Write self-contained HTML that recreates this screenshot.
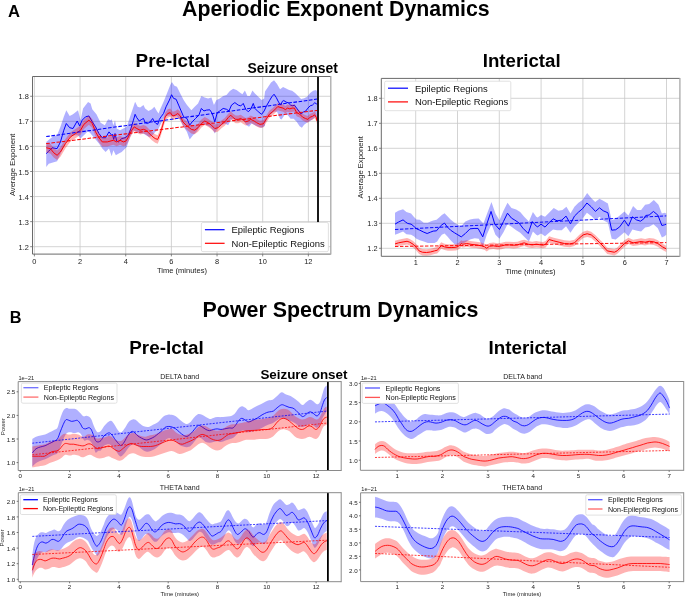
<!DOCTYPE html>
<html><head><meta charset="utf-8"><style>
html,body{margin:0;padding:0;background:#fff;}
body{width:685px;height:598px;overflow:hidden;}
svg{display:block;will-change:transform;}
text{font-family:"Liberation Sans",sans-serif;}
</style></head><body>
<svg width="685" height="598" viewBox="0 0 685 598">
<rect width="685" height="598" fill="#fff"/>
<defs>
<clipPath id="cAL"><rect x="32.5" y="76.5" width="298.3" height="177.6"/></clipPath>
<clipPath id="cAR"><rect x="381.3" y="78.4" width="298.3" height="177.8"/></clipPath>
<clipPath id="cBTL"><rect x="18.2" y="381.6" width="323" height="88.9"/></clipPath>
<clipPath id="cBTR"><rect x="360.4" y="381.5" width="323.3" height="88.8"/></clipPath>
<clipPath id="cBBL"><rect x="18.3" y="492.7" width="322.9" height="89"/></clipPath>
<clipPath id="cBBR"><rect x="360.6" y="492.8" width="323.1" height="88.8"/></clipPath>
</defs>
<text x="8.1" y="17" font-size="16.6" font-weight="bold" text-anchor="start" fill="#000">A</text>
<text x="182" y="15.9" font-size="21.3" font-weight="bold" text-anchor="start" fill="#000">Aperiodic Exponent Dynamics</text>
<text x="135.6" y="66.5" font-size="18.85" font-weight="bold" text-anchor="start" fill="#000">Pre-Ictal</text>
<text x="247.6" y="73.1" font-size="13.9" font-weight="bold" text-anchor="start" fill="#000">Seizure onset</text>
<text x="482.7" y="66.7" font-size="18.7" font-weight="bold" text-anchor="start" fill="#000">Interictal</text>
<text x="9.8" y="323" font-size="16.3" font-weight="bold" text-anchor="start" fill="#000">B</text>
<text x="202.6" y="316.8" font-size="21.4" font-weight="bold" text-anchor="start" fill="#000">Power Spectrum Dynamics</text>
<text x="129.3" y="353.9" font-size="18.85" font-weight="bold" text-anchor="start" fill="#000">Pre-Ictal</text>
<text x="488.6" y="354.2" font-size="18.8" font-weight="bold" text-anchor="start" fill="#000">Interictal</text>
<text x="260.4" y="378.8" font-size="13.4" font-weight="bold" text-anchor="start" fill="#000">Seizure onset</text>
<line x1="34.4" y1="76.5" x2="34.4" y2="254.1" stroke="#c8c8c8" stroke-width="0.8"/>
<line x1="80.06" y1="76.5" x2="80.06" y2="254.1" stroke="#c8c8c8" stroke-width="0.8"/>
<line x1="125.72" y1="76.5" x2="125.72" y2="254.1" stroke="#c8c8c8" stroke-width="0.8"/>
<line x1="171.38" y1="76.5" x2="171.38" y2="254.1" stroke="#c8c8c8" stroke-width="0.8"/>
<line x1="217.04" y1="76.5" x2="217.04" y2="254.1" stroke="#c8c8c8" stroke-width="0.8"/>
<line x1="262.7" y1="76.5" x2="262.7" y2="254.1" stroke="#c8c8c8" stroke-width="0.8"/>
<line x1="308.36" y1="76.5" x2="308.36" y2="254.1" stroke="#c8c8c8" stroke-width="0.8"/>
<line x1="32.5" y1="246.7" x2="330.8" y2="246.7" stroke="#c8c8c8" stroke-width="0.8"/>
<line x1="32.5" y1="221.63" x2="330.8" y2="221.63" stroke="#c8c8c8" stroke-width="0.8"/>
<line x1="32.5" y1="196.56" x2="330.8" y2="196.56" stroke="#c8c8c8" stroke-width="0.8"/>
<line x1="32.5" y1="171.49" x2="330.8" y2="171.49" stroke="#c8c8c8" stroke-width="0.8"/>
<line x1="32.5" y1="146.42" x2="330.8" y2="146.42" stroke="#c8c8c8" stroke-width="0.8"/>
<line x1="32.5" y1="121.35" x2="330.8" y2="121.35" stroke="#c8c8c8" stroke-width="0.8"/>
<line x1="32.5" y1="96.28" x2="330.8" y2="96.28" stroke="#c8c8c8" stroke-width="0.8"/>
<g clip-path="url(#cAL)">
<path d="M46.23,141.92 L50.41,138.58 L53.76,136.07 L57.1,135.23 L60.45,126.86 L63.8,116.82 L66.31,110.13 L69.66,115.98 L73,114.31 L78.03,110.13 L80.54,120.17 L83.05,108.45 L88.07,102.09 L90.58,103.43 L92.25,109.29 L96.44,114.31 L100.62,122.68 L104.8,125.19 L108.15,119.33 L110.66,120.17 L111.67,119.33 L113.35,125.19 L115.02,120.17 L116.69,128.54 L120.04,130.21 L123.39,128.54 L126.74,126.86 L130.08,116.82 L133.43,106.78 L135.1,101.76 L137.62,106.78 L140.13,107.62 L143.47,105.1 L145.15,108.45 L148.49,110.96 L151.84,109.29 L154.35,106.78 L156.86,110.96 L158.54,113.47 L160.21,109.29 L163.56,101.76 L166.9,93.39 L170.25,85.02 L171.92,82.01 L174.44,85.86 L176.95,86.69 L180.29,93.39 L183.64,100.08 L186.99,105.1 L191.35,110.13 L194.69,106.78 L198.04,103.43 L201.39,95.9 L204.74,97.57 L208.08,98.41 L211.43,97.57 L213.94,105.1 L216.45,100.08 L219.8,98.41 L223.15,95.9 L226.49,95.06 L229.84,90.88 L233.19,88.7 L236.54,90.04 L239.88,92.55 L242.39,94.23 L244.9,90.38 L247.41,95.9 L249.92,95.9 L252.44,90.38 L254.95,93.39 L258.29,96.74 L261.64,100.08 L264.15,98.41 L265.01,91.55 L268.02,87.03 L271.03,82.52 L274.04,80.26 L277.05,84.02 L280.06,89.29 L283.07,87.03 L286.08,88.54 L289.09,90.04 L292.1,90.79 L295.11,93.05 L298.12,96.06 L301.13,99.07 L304.14,98.32 L307.15,96.81 L310.16,93.05 L313.17,90.79 L316.18,90.04 L316.94,91.55 L316.94,119.39 L316.18,116.38 L313.17,118.64 L310.16,120.9 L307.15,122.4 L304.14,124.66 L301.89,127.67 L299.63,126.16 L296.62,121.65 L293.61,118.64 L290.6,118.64 L287.59,114.88 L284.58,114.88 L281.57,119.39 L280.06,118.64 L277.05,111.87 L274.04,111.87 L271.03,114.12 L268.02,117.13 L265.01,123.15 L264.99,126.03 L261.64,127.7 L258.29,126.86 L254.95,125.19 L251.6,123.51 L249.09,126.86 L246.58,125.19 L243.23,120.17 L239.88,120.17 L236.54,121 L233.19,118.49 L230.68,120.17 L228.17,125.19 L224.82,123.51 L221.47,125.19 L217.29,128.54 L214.78,133.56 L213.1,130.21 L209.76,126.86 L206.41,125.19 L203.06,123.51 L199.72,126.86 L196.37,131.88 L193.02,135.23 L189.67,139.41 L186.99,131.88 L183.64,126.86 L180.29,120.17 L176.95,115.98 L173.6,116.82 L170.25,115.15 L166.9,115.98 L163.56,118.49 L160.21,125.19 L157.7,130.21 L155.19,131.88 L151.84,136.07 L149.33,136.9 L145.98,135.23 L143.47,133.56 L140.13,133.56 L136.78,131.88 L133.43,130.21 L130.08,136.9 L126.74,146.95 L121.72,151.97 L118.37,153.64 L115.86,155.31 L113.35,150.29 L111.67,156.15 L108.99,148.62 L105.64,151.97 L102.29,148.62 L98.95,143.6 L94.76,138.58 L90.58,133.56 L88.07,131.05 L83.88,135.23 L80.54,138.58 L78.03,135.23 L73.84,135.23 L69.66,136.9 L65.47,143.6 L61.29,151.97 L57.1,161.17 L48.74,163.68 L46.23,167.03 Z" fill="rgba(0,0,255,0.31)"/>
<path d="M46.23,153.64 L48.74,151.13 L52.08,147.78 L57.1,148.62 L60.45,141.92 L63.8,130.21 L66.31,123.51 L69.66,127.7 L73,128.54 L77.19,121 L79.7,126.03 L82.21,120.17 L85.56,116.82 L88.9,115.98 L92.25,121.84 L95.6,126.86 L98.95,133.56 L102.29,137.74 L105.64,137.74 L108.99,131.88 L111.67,135.23 L112.51,134.39 L113.68,139.41 L115.02,133.56 L116.69,141.09 L118.37,141.92 L121.72,138.58 L125.06,137.74 L128.41,135.23 L130.92,128.54 L133.43,120.17 L135.1,114.31 L136.78,117.66 L139.29,121 L141.8,119.33 L143.47,118.49 L145.15,122.68 L147.66,123.51 L150.17,121.84 L152.68,118.49 L154.35,121.84 L156.03,123.51 L157.7,124.35 L159.37,119.33 L161.05,116.82 L163.56,113.47 L166.07,106.78 L169.41,100.08 L171.59,94.73 L173.6,98.41 L176.11,99.25 L178.62,105.1 L181.13,110.96 L183.64,116.82 L186.99,118.49 L189.67,125.19 L192.18,121.84 L195.53,118.49 L198.88,115.15 L201.39,108.45 L203.9,110.96 L206.41,110.13 L209.76,109.79 L212.27,113.47 L214.78,121.84 L217.29,112.64 L219.8,110.96 L223.15,108.45 L226.49,109.29 L229,110.96 L231.51,105.1 L234.86,102.59 L238.21,105.1 L240.72,105.94 L243.23,103.43 L245.74,109.29 L248.25,111.8 L250.76,109.29 L253.27,103.43 L254.95,108.45 L258.29,111.8 L261.64,114.31 L264.15,110.96 L266.52,105.84 L269.53,100.58 L271.78,96.81 L274.04,94.26 L276.3,97.57 L278.56,102.08 L280.81,105.09 L282.32,101.33 L283.82,100.58 L286.08,102.08 L288.34,102.83 L290.6,105.09 L292.85,105.84 L294.36,105.09 L296.62,108.1 L298.88,111.11 L301.13,114.12 L303.39,111.87 L305.65,111.11 L307.91,108.1 L310.16,105.84 L312.42,105.09 L314.68,102.83 L316.18,103.59 L316.94,104.34" fill="none" stroke="#0000ff" stroke-width="1.0" stroke-linejoin="round"/>
<path d="M46.23,142.98 L50.41,143.84 L53.76,148.04 L57.1,150.57 L60.45,147.24 L65.47,138.9 L70.49,132.23 L75.51,128.91 L80.54,125.59 L83.88,119.75 L88.9,115.59 L92.25,118.95 L95.6,127.34 L98.95,133.21 L102.29,137.41 L107.31,137.44 L113.35,135.8 L116.69,137.49 L120.04,135.83 L123.39,137.52 L125.9,136.7 L128.41,132.53 L131.76,125.85 L134.27,122.52 L136.78,124.2 L140.13,125.89 L143.47,125.07 L145.98,125.92 L148.49,128.45 L151.84,131.81 L155.19,134.34 L157.7,135.19 L160.21,129.34 L162.72,120.99 L165.23,112.63 L167.74,109.3 L170.25,108.48 L172.76,111.84 L175.27,111.01 L177.78,109.35 L180.29,111.87 L182.8,117.75 L186.15,121.11 L191.35,125.32 L194.69,126.17 L198.04,123.68 L201.39,119.51 L204.74,117.02 L208.08,118.71 L211.43,121.24 L214.78,124.6 L218.13,123.78 L221.47,120.45 L224.82,117.96 L228.17,113.79 L230.68,111.3 L233.19,113.82 L235.7,115.51 L238.21,115.52 L240.72,114.7 L243.23,116.38 L245.74,118.07 L248.25,117.25 L250.76,115.58 L254.11,117.28 L256.62,118.96 L259.97,120.65 L263.31,120.17 L266.52,114.97 L269.53,110.47 L272.54,108.23 L275.55,105.24 L277.8,102.99 L280.06,103.75 L283.07,104.52 L285.33,106.04 L287.59,104.55 L289.84,105.31 L292.1,104.57 L294.36,104.58 L296.62,109.11 L299.63,110.63 L302.64,113.65 L305.65,115.17 L307.91,115.94 L310.16,113.69 L312.42,112.95 L314.68,111.46 L316.18,113.72 L316.94,117.49 L316.94,124.3 L316.18,120.54 L314.68,118.29 L312.42,119.81 L310.16,120.57 L307.91,122.84 L305.65,122.1 L302.64,120.61 L299.63,117.62 L296.62,116.13 L294.36,111.62 L292.1,111.64 L289.84,112.4 L287.59,111.66 L285.33,113.18 L283.07,111.68 L280.06,110.95 L277.8,110.2 L275.55,112.47 L272.54,115.5 L269.53,117.77 L266.52,122.3 L263.31,127.53 L259.97,128.05 L256.62,126.39 L254.11,124.73 L250.76,123.08 L248.25,124.76 L245.74,125.61 L243.23,123.95 L240.72,122.29 L238.21,123.14 L235.7,123.15 L233.19,121.49 L230.68,119 L228.17,121.52 L224.82,125.72 L221.47,128.25 L218.13,131.61 L214.78,132.47 L211.43,129.14 L208.08,126.64 L204.74,124.99 L201.39,127.51 L198.04,131.72 L194.69,134.24 L191.35,133.42 L186.15,129.27 L182.8,125.94 L180.29,120.09 L177.78,117.59 L175.27,119.28 L172.76,120.13 L170.25,116.8 L167.74,117.65 L165.23,121.01 L162.72,129.39 L160.21,137.77 L157.7,143.64 L155.19,142.82 L151.84,140.32 L148.49,136.99 L145.98,134.49 L143.47,133.67 L140.13,134.52 L136.78,132.87 L134.27,131.21 L131.76,134.57 L128.41,141.28 L125.9,145.48 L123.39,146.33 L120.04,144.67 L116.69,146.36 L113.35,144.7 L107.31,146.41 L102.29,146.43 L98.95,142.27 L95.6,136.43 L92.25,128.08 L88.9,124.75 L83.88,128.96 L80.54,134.83 L75.51,138.2 L70.49,141.58 L65.47,148.3 L60.45,156.69 L57.1,160.06 L53.76,157.56 L50.41,153.4 L46.23,152.58 Z" fill="rgba(255,0,0,0.30)"/>
<path d="M46.23,147.78 L50.41,148.62 L53.76,152.8 L57.1,155.31 L60.45,151.97 L65.47,143.6 L70.49,136.9 L75.51,133.56 L80.54,130.21 L83.88,124.35 L88.9,120.17 L92.25,123.51 L95.6,131.88 L98.95,137.74 L102.29,141.92 L107.31,141.92 L113.35,140.25 L116.69,141.92 L120.04,140.25 L123.39,141.92 L125.9,141.09 L128.41,136.9 L131.76,130.21 L134.27,126.86 L136.78,128.54 L140.13,130.21 L143.47,129.37 L145.98,130.21 L148.49,132.72 L151.84,136.07 L155.19,138.58 L157.7,139.41 L160.21,133.56 L162.72,125.19 L165.23,116.82 L167.74,113.47 L170.25,112.64 L172.76,115.98 L175.27,115.15 L177.78,113.47 L180.29,115.98 L182.8,121.84 L186.15,125.19 L191.35,129.37 L194.69,130.21 L198.04,127.7 L201.39,123.51 L204.74,121 L208.08,122.68 L211.43,125.19 L214.78,128.54 L218.13,127.7 L221.47,124.35 L224.82,121.84 L228.17,117.66 L230.68,115.15 L233.19,117.66 L235.7,119.33 L238.21,119.33 L240.72,118.49 L243.23,120.17 L245.74,121.84 L248.25,121 L250.76,119.33 L254.11,121 L256.62,122.68 L259.97,124.35 L263.31,123.85 L266.52,118.64 L269.53,114.12 L272.54,111.87 L275.55,108.85 L277.8,106.6 L280.06,107.35 L283.07,108.1 L285.33,109.61 L287.59,108.1 L289.84,108.85 L292.1,108.1 L294.36,108.1 L296.62,112.62 L299.63,114.12 L302.64,117.13 L305.65,118.64 L307.91,119.39 L310.16,117.13 L312.42,116.38 L314.68,114.88 L316.18,117.13 L316.94,120.9" fill="none" stroke="#ff0000" stroke-width="1.0" stroke-linejoin="round"/>
<line x1="46.2" y1="136.6" x2="317" y2="99.1" stroke="#0000ff" stroke-width="1.05" stroke-dasharray="3.6 1.6"/>
<line x1="46.2" y1="143.6" x2="317" y2="110.4" stroke="#ff0000" stroke-width="1.05" stroke-dasharray="3.6 1.6"/>
</g>
<line x1="318" y1="76.5" x2="318" y2="222.5" stroke="#000" stroke-width="1.8"/>
<path d="M330.8,76.5 L32.5,76.5 L32.5,254.1 L330.8,254.1" fill="none" stroke="#6a6a6a" stroke-width="1"/>
<line x1="330.8" y1="76" x2="330.8" y2="254.6" stroke="#a8a8a8" stroke-width="1.3"/>
<line x1="34.4" y1="254.1" x2="34.4" y2="256.4" stroke="#6a6a6a" stroke-width="0.8"/>
<text x="34.4" y="263.6" font-size="7.4" text-anchor="middle" fill="#222">0</text>
<line x1="80.06" y1="254.1" x2="80.06" y2="256.4" stroke="#6a6a6a" stroke-width="0.8"/>
<text x="80.06" y="263.6" font-size="7.4" text-anchor="middle" fill="#222">2</text>
<line x1="125.72" y1="254.1" x2="125.72" y2="256.4" stroke="#6a6a6a" stroke-width="0.8"/>
<text x="125.72" y="263.6" font-size="7.4" text-anchor="middle" fill="#222">4</text>
<line x1="171.38" y1="254.1" x2="171.38" y2="256.4" stroke="#6a6a6a" stroke-width="0.8"/>
<text x="171.38" y="263.6" font-size="7.4" text-anchor="middle" fill="#222">6</text>
<line x1="217.04" y1="254.1" x2="217.04" y2="256.4" stroke="#6a6a6a" stroke-width="0.8"/>
<text x="217.04" y="263.6" font-size="7.4" text-anchor="middle" fill="#222">8</text>
<line x1="262.7" y1="254.1" x2="262.7" y2="256.4" stroke="#6a6a6a" stroke-width="0.8"/>
<text x="262.7" y="263.6" font-size="7.4" text-anchor="middle" fill="#222">10</text>
<line x1="308.36" y1="254.1" x2="308.36" y2="256.4" stroke="#6a6a6a" stroke-width="0.8"/>
<text x="308.36" y="263.6" font-size="7.4" text-anchor="middle" fill="#222">12</text>
<line x1="30.2" y1="246.7" x2="32.5" y2="246.7" stroke="#6a6a6a" stroke-width="0.8"/>
<text x="28.8" y="249.8" font-size="7.4" text-anchor="end" fill="#222">1.2</text>
<line x1="30.2" y1="221.63" x2="32.5" y2="221.63" stroke="#6a6a6a" stroke-width="0.8"/>
<text x="28.8" y="224.73" font-size="7.4" text-anchor="end" fill="#222">1.3</text>
<line x1="30.2" y1="196.56" x2="32.5" y2="196.56" stroke="#6a6a6a" stroke-width="0.8"/>
<text x="28.8" y="199.66" font-size="7.4" text-anchor="end" fill="#222">1.4</text>
<line x1="30.2" y1="171.49" x2="32.5" y2="171.49" stroke="#6a6a6a" stroke-width="0.8"/>
<text x="28.8" y="174.59" font-size="7.4" text-anchor="end" fill="#222">1.5</text>
<line x1="30.2" y1="146.42" x2="32.5" y2="146.42" stroke="#6a6a6a" stroke-width="0.8"/>
<text x="28.8" y="149.52" font-size="7.4" text-anchor="end" fill="#222">1.6</text>
<line x1="30.2" y1="121.35" x2="32.5" y2="121.35" stroke="#6a6a6a" stroke-width="0.8"/>
<text x="28.8" y="124.45" font-size="7.4" text-anchor="end" fill="#222">1.7</text>
<line x1="30.2" y1="96.28" x2="32.5" y2="96.28" stroke="#6a6a6a" stroke-width="0.8"/>
<text x="28.8" y="99.38" font-size="7.4" text-anchor="end" fill="#222">1.8</text>
<rect x="201.4" y="222.5" width="127" height="29.1" rx="1.5" fill="#fff" stroke="#d9d9d9" stroke-width="0.8"/>
<line x1="204.9" y1="229.7" x2="224.6" y2="229.7" stroke="#0000ff" stroke-width="1.2"/>
<line x1="204.9" y1="243.3" x2="224.6" y2="243.3" stroke="#ff0000" stroke-width="1.2"/>
<text x="231.4" y="233.1" font-size="9.45" text-anchor="start" fill="#111">Epileptic Regions</text>
<text x="231.4" y="246.7" font-size="9.45" text-anchor="start" fill="#111">Non-Epileptic Regions</text>
<text x="181.9" y="272.5" font-size="7.55" text-anchor="middle" fill="#222">Time (minutes)</text>
<text x="14.8" y="164.9" font-size="7.6" text-anchor="middle" fill="#222" transform="rotate(-90 14.8 164.9)">Average Exponent</text>
<line x1="415.7" y1="78.4" x2="415.7" y2="256.3" stroke="#c8c8c8" stroke-width="0.8"/>
<line x1="457.5" y1="78.4" x2="457.5" y2="256.3" stroke="#c8c8c8" stroke-width="0.8"/>
<line x1="499.3" y1="78.4" x2="499.3" y2="256.3" stroke="#c8c8c8" stroke-width="0.8"/>
<line x1="541.1" y1="78.4" x2="541.1" y2="256.3" stroke="#c8c8c8" stroke-width="0.8"/>
<line x1="582.9" y1="78.4" x2="582.9" y2="256.3" stroke="#c8c8c8" stroke-width="0.8"/>
<line x1="624.7" y1="78.4" x2="624.7" y2="256.3" stroke="#c8c8c8" stroke-width="0.8"/>
<line x1="666.5" y1="78.4" x2="666.5" y2="256.3" stroke="#c8c8c8" stroke-width="0.8"/>
<line x1="381.3" y1="248.3" x2="679.9" y2="248.3" stroke="#c8c8c8" stroke-width="0.8"/>
<line x1="381.3" y1="223.3" x2="679.9" y2="223.3" stroke="#c8c8c8" stroke-width="0.8"/>
<line x1="381.3" y1="198.3" x2="679.9" y2="198.3" stroke="#c8c8c8" stroke-width="0.8"/>
<line x1="381.3" y1="173.3" x2="679.9" y2="173.3" stroke="#c8c8c8" stroke-width="0.8"/>
<line x1="381.3" y1="148.3" x2="679.9" y2="148.3" stroke="#c8c8c8" stroke-width="0.8"/>
<line x1="381.3" y1="123.3" x2="679.9" y2="123.3" stroke="#c8c8c8" stroke-width="0.8"/>
<line x1="381.3" y1="98.3" x2="679.9" y2="98.3" stroke="#c8c8c8" stroke-width="0.8"/>
<g clip-path="url(#cAR)">
<path d="M395.03,212.78 L398.38,210.77 L403.06,209.16 L406.4,212.11 L411.09,213.44 L413.76,216.79 L416.44,219.46 L419.78,219.73 L423.8,222.81 L427.81,222.81 L430.48,221.47 L433.16,220.4 L436.51,219.87 L439.18,217.46 L441.86,215.05 L444.53,213.18 L447.21,216.12 L450.55,219.46 L454.57,222.81 L457.91,224.82 L461.25,226.15 L465.35,221.47 L470.03,219.46 L474.05,218.8 L478.73,218.53 L483.41,223.48 L487.42,212.78 L491.44,202.07 L495.45,213.44 L499.46,220.13 L503.48,210.77 L507.49,202.74 L511.51,208.09 L516.19,209.43 L520.2,212.11 L524.21,216.79 L528.9,221.47 L532.91,212.11 L536.25,216.79 L537.68,217.46 L541.02,215.05 L545.03,216.79 L549.05,212.78 L553.73,208.09 L558.41,210.77 L562.42,210.1 L566.44,206.76 L570.45,213.44 L574.46,206.76 L578.48,202.74 L582.49,200.07 L587.17,193.11 L591.19,198.06 L595.2,202.07 L599.48,198.73 L603.23,200.74 L607.91,203.41 L611.69,220.13 L615.7,218.8 L619.72,215.45 L624.4,211.44 L628.41,215.45 L633.09,206.09 L637.11,210.1 L641.12,210.1 L645.13,204.75 L649.15,204.08 L653.83,200.07 L658.51,204.75 L661.86,213.44 L664.53,212.78 L666.27,213.44 L666.27,234.85 L664.53,236.19 L661.86,237.53 L657.84,228.16 L653.43,224.15 L649.15,226.82 L645.13,227.49 L641.12,231.51 L637.11,230.84 L632.42,229.5 L628.41,236.19 L624.4,232.17 L619.72,236.19 L615.7,239.53 L611.69,238.86 L607.91,222.81 L603.23,220.13 L599.48,216.79 L595.47,220.13 L591.19,216.12 L586.91,212.78 L582.49,218.8 L578.48,222.81 L574.46,226.82 L570.45,232.84 L566.04,226.15 L561.76,230.17 L557.07,230.17 L553.06,229.5 L549.05,232.84 L545.03,236.19 L541.02,233.51 L537.68,235.52 L536.25,234.85 L532.91,231.51 L528.9,241.54 L524.21,236.86 L520.2,232.84 L516.19,230.17 L511.51,226.82 L507.49,224.15 L503.48,232.17 L499.46,238.86 L495.45,234.85 L491.44,224.15 L486.76,234.85 L482.74,246.89 L478.73,238.86 L474.72,238.19 L470.03,239.53 L464.01,242.88 L461.25,244.21 L457.91,244.88 L454.57,244.21 L450.55,240.2 L447.21,236.19 L444.53,233.51 L441.86,234.85 L439.18,238.19 L437.17,241.54 L434.5,242.88 L431.15,242.88 L427.81,242.88 L423.8,241.54 L419.78,240.2 L416.44,238.86 L413.76,236.19 L411.09,234.85 L406.4,234.18 L403.06,231.51 L398.38,233.51 L395.03,234.85 Z" fill="rgba(0,0,255,0.31)"/>
<path d="M395.03,224.15 L398.38,222.14 L403.06,219.87 L405.74,222.14 L407.74,223.48 L411.09,224.15 L413.76,226.15 L416.44,228.83 L419.78,230.17 L423.8,232.17 L427.14,233.51 L430.48,232.17 L433.16,231.1 L436.51,230.84 L439.18,227.49 L441.86,224.82 L444.53,223.08 L447.21,226.82 L450.55,230.17 L454.57,232.84 L457.91,234.85 L461.25,236.86 L465.35,233.51 L470.03,228.83 L474.05,228.43 L478.06,228.43 L482.74,236.86 L486.76,224.15 L491.04,211.44 L494.78,224.15 L499.46,229.5 L503.48,221.47 L507.49,213.18 L511.51,218.13 L514.85,220.13 L518.86,222.81 L522.88,228.16 L528.23,233.51 L532.24,221.47 L536.25,226.15 L537.68,226.82 L541.02,224.15 L545.03,227.09 L549.05,222.81 L553.06,218.8 L557.07,220.8 L561.76,220.13 L566.04,216.12 L570.45,223.88 L574.46,216.12 L578.48,212.11 L582.49,208.76 L586.91,203.01 L591.19,206.76 L595.47,211.44 L599.48,207.83 L603.23,210.77 L607.91,212.78 L611.69,230.17 L615.7,229.77 L619.72,226.82 L624.4,220.13 L628.41,226.15 L632.42,216.79 L636.44,219.87 L640.45,221.2 L643.8,218.8 L645.8,215.45 L649.15,215.05 L653.43,211.44 L657.84,215.05 L661.86,225.48 L664.53,224.82 L666.27,224.15" fill="none" stroke="#0000ff" stroke-width="1.0" stroke-linejoin="round"/>
<path d="M395.03,240.75 L398.38,239.68 L403.06,238.74 L407.07,238.07 L409.75,239.01 L413.09,241.01 L416.44,244.36 L419.11,247.7 L422.46,249.04 L426.47,249.31 L430.48,248.77 L434.5,247.7 L437.17,247.03 L439.18,245.03 L441.19,242.35 L444.53,243.69 L447.88,244.36 L451.89,244.36 L455.9,244.09 L458.58,243.02 L461.25,240.35 L462.68,241.01 L466.69,240.35 L472.04,241.28 L476.05,241.68 L481.4,242.62 L484.75,243.69 L486.76,245.03 L489.43,243.02 L493.44,242.62 L497.46,243.29 L501.47,242.75 L505.48,241.68 L509.5,241.68 L513.51,242.08 L517.53,241.68 L521.54,240.35 L524.21,239.68 L528.23,241.01 L532.24,241.68 L536.25,241.01 L539.01,241.42 L543.03,241.95 L545.7,241.01 L549.05,236.33 L553.73,237.67 L559.08,239.01 L564.43,240.35 L569.78,240.75 L574.46,239.68 L579.15,234.99 L583.16,231.65 L587.17,230.58 L591.19,231.65 L595.2,234.99 L599.21,239.01 L603.23,243.02 L607.24,247.7 L614.36,249.04 L617.04,247.7 L620.38,244.36 L624.4,240.35 L628.41,237.67 L633.09,239.68 L637.11,239.01 L641.12,238.34 L645.13,239.01 L649.15,238.07 L653.83,238.61 L657.84,240.35 L662.53,243.69 L666.27,245.7 L666.27,252.1 L662.53,250.09 L657.84,246.75 L653.83,245.01 L649.15,244.47 L645.13,245.41 L641.12,244.74 L637.11,245.41 L633.09,246.08 L628.41,244.07 L624.4,246.75 L620.38,250.76 L617.04,254.1 L614.36,255.44 L607.24,254.1 L603.23,249.42 L599.21,245.41 L595.2,241.39 L591.19,238.05 L587.17,236.98 L583.16,238.05 L579.15,241.39 L574.46,246.08 L569.78,247.15 L564.43,246.75 L559.08,245.41 L553.73,244.07 L549.05,242.73 L545.7,247.41 L543.03,248.35 L539.01,247.82 L536.25,247.41 L532.24,248.08 L528.23,247.41 L524.21,246.08 L521.54,246.75 L517.53,248.08 L513.51,248.48 L509.5,248.08 L505.48,248.08 L501.47,249.15 L497.46,249.69 L493.44,249.02 L489.43,249.42 L486.76,251.43 L484.75,250.09 L481.4,249.02 L476.05,248.08 L472.04,247.68 L466.69,246.75 L462.68,247.41 L461.25,246.75 L458.58,249.42 L455.9,250.49 L451.89,250.76 L447.88,250.76 L444.53,250.09 L441.19,248.75 L439.18,251.43 L437.17,253.43 L434.5,254.1 L430.48,255.17 L426.47,255.71 L422.46,255.44 L419.11,254.1 L416.44,250.76 L413.09,247.41 L409.75,245.41 L407.07,244.47 L403.06,245.14 L398.38,246.08 L395.03,247.15 Z" fill="rgba(255,0,0,0.30)"/>
<path d="M395.03,243.95 L398.38,242.88 L403.06,241.94 L407.07,241.27 L409.75,242.21 L413.09,244.21 L416.44,247.56 L419.11,250.9 L422.46,252.24 L426.47,252.51 L430.48,251.97 L434.5,250.9 L437.17,250.23 L439.18,248.23 L441.19,245.55 L444.53,246.89 L447.88,247.56 L451.89,247.56 L455.9,247.29 L458.58,246.22 L461.25,243.55 L462.68,244.21 L466.69,243.55 L472.04,244.48 L476.05,244.88 L481.4,245.82 L484.75,246.89 L486.76,248.23 L489.43,246.22 L493.44,245.82 L497.46,246.49 L501.47,245.95 L505.48,244.88 L509.5,244.88 L513.51,245.28 L517.53,244.88 L521.54,243.55 L524.21,242.88 L528.23,244.21 L532.24,244.88 L536.25,244.21 L539.01,244.62 L543.03,245.15 L545.7,244.21 L549.05,239.53 L553.73,240.87 L559.08,242.21 L564.43,243.55 L569.78,243.95 L574.46,242.88 L579.15,238.19 L583.16,234.85 L587.17,233.78 L591.19,234.85 L595.2,238.19 L599.21,242.21 L603.23,246.22 L607.24,250.9 L614.36,252.24 L617.04,250.9 L620.38,247.56 L624.4,243.55 L628.41,240.87 L633.09,242.88 L637.11,242.21 L641.12,241.54 L645.13,242.21 L649.15,241.27 L653.83,241.81 L657.84,243.55 L662.53,246.89 L666.27,248.9" fill="none" stroke="#ff0000" stroke-width="1.0" stroke-linejoin="round"/>
<line x1="395" y1="229.5" x2="666.3" y2="215.9" stroke="#0000ff" stroke-width="0.95" stroke-dasharray="3.4 1.6"/>
<line x1="395" y1="246.5" x2="666.3" y2="242.6" stroke="#ff0000" stroke-width="0.95" stroke-dasharray="3.4 1.6"/>
</g>
<path d="M679.9,78.4 L381.3,78.4 L381.3,256.3 L679.9,256.3" fill="none" stroke="#6a6a6a" stroke-width="1"/>
<line x1="679.9" y1="77.9" x2="679.9" y2="256.8" stroke="#a8a8a8" stroke-width="1.3"/>
<line x1="415.7" y1="256.3" x2="415.7" y2="258.6" stroke="#6a6a6a" stroke-width="0.8"/>
<text x="415.7" y="264.9" font-size="7.4" text-anchor="middle" fill="#222">1</text>
<line x1="457.5" y1="256.3" x2="457.5" y2="258.6" stroke="#6a6a6a" stroke-width="0.8"/>
<text x="457.5" y="264.9" font-size="7.4" text-anchor="middle" fill="#222">2</text>
<line x1="499.3" y1="256.3" x2="499.3" y2="258.6" stroke="#6a6a6a" stroke-width="0.8"/>
<text x="499.3" y="264.9" font-size="7.4" text-anchor="middle" fill="#222">3</text>
<line x1="541.1" y1="256.3" x2="541.1" y2="258.6" stroke="#6a6a6a" stroke-width="0.8"/>
<text x="541.1" y="264.9" font-size="7.4" text-anchor="middle" fill="#222">4</text>
<line x1="582.9" y1="256.3" x2="582.9" y2="258.6" stroke="#6a6a6a" stroke-width="0.8"/>
<text x="582.9" y="264.9" font-size="7.4" text-anchor="middle" fill="#222">5</text>
<line x1="624.7" y1="256.3" x2="624.7" y2="258.6" stroke="#6a6a6a" stroke-width="0.8"/>
<text x="624.7" y="264.9" font-size="7.4" text-anchor="middle" fill="#222">6</text>
<line x1="666.5" y1="256.3" x2="666.5" y2="258.6" stroke="#6a6a6a" stroke-width="0.8"/>
<text x="666.5" y="264.9" font-size="7.4" text-anchor="middle" fill="#222">7</text>
<line x1="379" y1="248.3" x2="381.3" y2="248.3" stroke="#6a6a6a" stroke-width="0.8"/>
<text x="377.6" y="251.4" font-size="7.4" text-anchor="end" fill="#222">1.2</text>
<line x1="379" y1="223.3" x2="381.3" y2="223.3" stroke="#6a6a6a" stroke-width="0.8"/>
<text x="377.6" y="226.4" font-size="7.4" text-anchor="end" fill="#222">1.3</text>
<line x1="379" y1="198.3" x2="381.3" y2="198.3" stroke="#6a6a6a" stroke-width="0.8"/>
<text x="377.6" y="201.4" font-size="7.4" text-anchor="end" fill="#222">1.4</text>
<line x1="379" y1="173.3" x2="381.3" y2="173.3" stroke="#6a6a6a" stroke-width="0.8"/>
<text x="377.6" y="176.4" font-size="7.4" text-anchor="end" fill="#222">1.5</text>
<line x1="379" y1="148.3" x2="381.3" y2="148.3" stroke="#6a6a6a" stroke-width="0.8"/>
<text x="377.6" y="151.4" font-size="7.4" text-anchor="end" fill="#222">1.6</text>
<line x1="379" y1="123.3" x2="381.3" y2="123.3" stroke="#6a6a6a" stroke-width="0.8"/>
<text x="377.6" y="126.4" font-size="7.4" text-anchor="end" fill="#222">1.7</text>
<line x1="379" y1="98.3" x2="381.3" y2="98.3" stroke="#6a6a6a" stroke-width="0.8"/>
<text x="377.6" y="101.4" font-size="7.4" text-anchor="end" fill="#222">1.8</text>
<rect x="384.6" y="81.2" width="126.2" height="29.5" rx="1.5" fill="#fff" stroke="#d9d9d9" stroke-width="0.8"/>
<line x1="388" y1="88.2" x2="408" y2="88.2" stroke="#0000ff" stroke-width="1.2"/>
<line x1="388" y1="101.9" x2="408" y2="101.9" stroke="#ff0000" stroke-width="1.2"/>
<text x="414.9" y="91.6" font-size="9.45" text-anchor="start" fill="#111">Epileptic Regions</text>
<text x="414.9" y="105.3" font-size="9.45" text-anchor="start" fill="#111">Non-Epileptic Regions</text>
<text x="530.5" y="274.4" font-size="7.55" text-anchor="middle" fill="#222">Time (minutes)</text>
<text x="363.5" y="167.3" font-size="7.6" text-anchor="middle" fill="#222" transform="rotate(-90 363.5 167.3)">Average Exponent</text>
<g clip-path="url(#cBTL)">
<path d="M32.3,438.95 C32.93,438.57 34.68,437.27 36.06,436.69 C37.44,436.11 39.07,435.86 40.58,435.49 C42.08,435.11 43.59,434.98 45.09,434.43 C46.6,433.88 48.1,432.93 49.61,432.17 C51.11,431.42 52.82,430.67 54.12,429.92 C55.43,429.16 56.43,429.54 57.43,427.66 C58.44,425.78 59.19,421.39 60.14,418.63 C61.1,415.87 62.15,412.86 63.15,411.1 C64.16,409.35 65.03,408.47 66.16,408.09 C67.29,407.72 68.55,408.72 69.93,408.84 C71.31,408.97 73.19,408.59 74.44,408.84 C75.7,409.1 76.45,409.6 77.45,410.35 C78.46,411.1 79.46,412.36 80.46,413.36 C81.47,414.36 82.34,415.94 83.47,416.37 C84.6,416.8 85.98,415.54 87.24,415.92 C88.49,416.3 89.87,416.92 91,418.63 C92.13,420.33 93.13,424.15 94.01,426.15 C94.89,428.16 95.6,429.67 96.27,430.67 C96.93,431.67 97.22,432.17 98.01,432.17 C98.8,432.17 100.02,431.67 101.02,430.67 C102.02,429.67 102.78,427.66 104.03,426.15 C105.28,424.65 107.29,422.52 108.55,421.64 C109.8,420.76 110.55,420.38 111.56,420.89 C112.56,421.39 113.44,423.02 114.57,424.65 C115.7,426.28 117.2,429.41 118.33,430.67 C119.46,431.92 120.21,432.68 121.34,432.17 C122.47,431.67 123.85,429.41 125.1,427.66 C126.36,425.9 127.61,423.02 128.87,421.64 C130.12,420.26 131.5,419.68 132.63,419.38 C133.76,419.08 134.51,419.2 135.64,419.83 C136.77,420.46 138.02,422.09 139.4,423.14 C140.78,424.2 142.41,425.53 143.92,426.15 C145.42,426.78 146.93,427.16 148.43,426.91 C149.94,426.66 151.44,425.4 152.95,424.65 C154.45,423.9 156.08,423.39 157.46,422.39 C158.84,421.39 159.97,419.76 161.23,418.63 C162.48,417.5 163.73,416.32 164.99,415.62 C166.24,414.92 167.62,414.54 168.75,414.41 C169.88,414.29 170.59,414.54 171.76,414.87 C172.93,415.19 174.47,415.62 175.76,416.37 C177.06,417.12 178.27,418.38 179.53,419.38 C180.78,420.38 182.03,421.64 183.29,422.39 C184.54,423.14 185.8,424.02 187.05,423.9 C188.31,423.77 189.56,422.77 190.81,421.64 C192.07,420.51 193.32,418.38 194.58,417.12 C195.83,415.87 197.09,414.49 198.34,414.11 C199.59,413.74 200.85,414.36 202.1,414.87 C203.36,415.37 204.61,416.45 205.87,417.12 C207.12,417.8 208.37,418.8 209.63,418.93 C210.88,419.05 212.14,418.18 213.39,417.88 C214.64,417.57 215.9,417.25 217.15,417.12 C218.41,417 219.54,417.17 220.92,417.12 C222.3,417.07 223.93,416.95 225.43,416.82 C226.94,416.7 228.44,416.82 229.95,416.37 C231.45,415.92 233.08,415.37 234.46,414.11 C235.84,412.86 236.97,410.15 238.23,408.84 C239.48,407.54 240.73,406.41 241.99,406.29 C243.24,406.16 244.62,407.41 245.75,408.09 C246.88,408.77 247.3,410.48 248.76,410.35 C250.22,410.22 252.8,408.22 254.52,407.34 C256.23,406.46 257.53,405.83 259.03,405.08 C260.54,404.33 262.04,403.58 263.55,402.82 C265.05,402.07 266.56,401.07 268.06,400.57 C269.57,400.06 271.07,400.57 272.58,399.81 C274.08,399.06 275.59,397.31 277.09,396.05 C278.6,394.8 280.1,392.54 281.61,392.29 C283.11,392.04 284.62,393.92 286.12,394.55 C287.63,395.17 289.13,395.3 290.64,396.05 C292.14,396.8 293.77,398.06 295.15,399.06 C296.53,400.06 297.66,401.07 298.92,402.07 C300.17,403.08 301.42,405.08 302.68,405.08 C303.93,405.08 305.19,402.95 306.44,402.07 C307.7,401.19 309.08,399.94 310.2,399.81 C311.33,399.69 312.09,400.57 313.21,401.32 C314.34,402.07 315.85,404.2 316.98,404.33 C318.11,404.45 319.11,403.7 319.99,402.07 C320.87,400.44 321.49,396.93 322.25,394.55 C323,392.16 323.75,389.28 324.5,387.77 C325.26,386.27 326.38,385.89 326.76,385.52 L326.76,411.1 C326.38,411.73 325.26,413.61 324.5,414.87 C323.75,416.12 323,417 322.25,418.63 C321.49,420.26 320.87,423.14 319.99,424.65 C319.11,426.15 318.11,427.53 316.98,427.66 C315.85,427.78 314.34,426.03 313.21,425.4 C312.09,424.77 311.33,423.9 310.2,423.9 C309.08,423.9 307.7,424.9 306.44,425.4 C305.19,425.9 303.93,426.78 302.68,426.91 C301.42,427.03 300.17,426.78 298.92,426.15 C297.66,425.53 296.53,424.02 295.15,423.14 C293.77,422.27 292.14,421.51 290.64,420.89 C289.13,420.26 287.63,419.88 286.12,419.38 C284.62,418.88 283.11,417.75 281.61,417.88 C280.1,418 278.6,419.26 277.09,420.13 C275.59,421.01 274.08,422.39 272.58,423.14 C271.07,423.9 269.57,424.02 268.06,424.65 C266.56,425.28 265.05,426.15 263.55,426.91 C262.04,427.66 260.54,428.54 259.03,429.16 C257.53,429.79 256.23,430.17 254.52,430.67 C252.8,431.17 250.22,432.05 248.76,432.17 C247.3,432.3 246.88,431.67 245.75,431.42 C244.62,431.17 243.24,430.42 241.99,430.67 C240.73,430.92 239.6,431.8 238.23,432.93 C236.85,434.06 235.09,436.44 233.71,437.44 C232.33,438.45 231.33,438.45 229.95,438.95 C228.57,439.45 226.94,439.95 225.43,440.45 C223.93,440.95 222.3,441.83 220.92,441.96 C219.54,442.08 218.41,441.2 217.15,441.2 C215.9,441.2 214.64,441.71 213.39,441.96 C212.14,442.21 210.88,442.71 209.63,442.71 C208.37,442.71 207.12,442.58 205.87,441.96 C204.61,441.33 203.36,439.7 202.1,438.95 C200.85,438.19 199.59,437.07 198.34,437.44 C197.09,437.82 195.83,439.83 194.58,441.2 C193.32,442.58 192.07,444.72 190.81,445.72 C189.56,446.72 188.31,447.1 187.05,447.23 C185.8,447.35 184.54,446.85 183.29,446.47 C182.03,446.1 180.78,445.85 179.53,444.97 C178.27,444.09 177.43,442.33 175.76,441.2 C174.09,440.08 171.17,438.45 169.5,438.19 C167.83,437.94 166.87,438.95 165.74,439.7 C164.61,440.45 163.86,441.71 162.73,442.71 C161.6,443.71 160.22,444.72 158.97,445.72 C157.71,446.72 156.58,447.85 155.2,448.73 C153.83,449.61 152.07,450.49 150.69,450.99 C149.31,451.49 148.18,451.87 146.93,451.74 C145.67,451.62 144.42,450.99 143.16,450.24 C141.91,449.48 140.66,448.1 139.4,447.23 C138.15,446.35 136.77,445.47 135.64,444.97 C134.51,444.47 133.76,443.84 132.63,444.21 C131.5,444.59 130.12,445.85 128.87,447.23 C127.61,448.6 126.36,450.99 125.1,452.49 C123.85,454 122.34,455.75 121.34,456.26 C120.34,456.76 120.09,456.51 119.08,455.5 C118.08,454.5 116.57,451.87 115.32,450.24 C114.06,448.6 112.69,446.72 111.56,445.72 C110.43,444.72 109.8,444.21 108.55,444.21 C107.29,444.21 105.28,444.72 104.03,445.72 C102.78,446.72 102.02,449.36 101.02,450.24 C100.02,451.11 98.93,450.61 98.01,450.99 C97.09,451.36 96.31,453.37 95.51,452.49 C94.72,451.62 94.13,447.6 93.26,445.72 C92.38,443.84 91.25,442.21 90.25,441.2 C89.24,440.2 88.24,439.83 87.24,439.7 C86.23,439.57 85.23,441.33 84.23,440.45 C83.22,439.57 82.22,435.81 81.21,434.43 C80.21,433.05 79.33,432.42 78.2,432.17 C77.08,431.92 75.82,432.93 74.44,432.93 C73.06,432.93 71.31,432.05 69.93,432.17 C68.55,432.3 67.29,432.42 66.16,433.68 C65.03,434.93 64.16,437.44 63.15,439.7 C62.15,441.96 61.1,444.97 60.14,447.23 C59.19,449.48 58.44,451.99 57.43,453.25 C56.43,454.5 55.43,454.12 54.12,454.75 C52.82,455.38 51.11,456.26 49.61,457.01 C48.1,457.76 46.6,458.64 45.09,459.27 C43.59,459.89 42.08,460.14 40.58,460.77 C39.07,461.4 37.44,462.03 36.06,463.03 C34.68,464.03 32.93,466.16 32.3,466.79 Z" fill="rgba(0,0,255,0.31)"/>
<path d="M32.3,452.94 C32.93,452.24 34.68,449.73 36.06,448.73 C37.44,447.73 39.07,447.43 40.58,446.92 C42.08,446.42 43.59,446.3 45.09,445.72 C46.6,445.14 48.1,444.21 49.61,443.46 C51.11,442.71 52.82,441.96 54.12,441.2 C55.43,440.45 56.43,440.45 57.43,438.95 C58.44,437.44 59.19,434.56 60.14,432.17 C61.1,429.79 62.2,426.71 63.15,424.65 C64.11,422.59 64.98,420.58 65.86,419.83 C66.74,419.08 67.49,419.88 68.42,420.13 C69.35,420.38 70.43,421.21 71.43,421.34 C72.44,421.46 73.44,421.04 74.44,420.89 C75.45,420.74 76.45,419.93 77.45,420.43 C78.46,420.94 79.58,422.64 80.46,423.9 C81.34,425.15 81.84,427.13 82.72,427.96 C83.6,428.79 84.73,428.91 85.73,428.86 C86.73,428.81 87.86,427.61 88.74,427.66 C89.62,427.71 90.25,428.03 91,429.16 C91.75,430.29 92.5,432.55 93.26,434.43 C94.01,436.31 94.72,439.2 95.51,440.45 C96.31,441.71 97.09,441.96 98.01,441.96 C98.93,441.96 100.02,441.46 101.02,440.45 C102.02,439.45 102.78,437.19 104.03,435.94 C105.28,434.68 107.29,433.18 108.55,432.93 C109.8,432.68 110.43,433.3 111.56,434.43 C112.69,435.56 114.06,438.07 115.32,439.7 C116.57,441.33 118.08,443.26 119.08,444.21 C120.09,445.17 120.46,445.8 121.34,445.42 C122.22,445.04 123.22,443.66 124.35,441.96 C125.48,440.25 126.86,436.94 128.11,435.18 C129.37,433.43 130.75,431.8 131.88,431.42 C133,431.05 133.88,432.17 134.89,432.93 C135.89,433.68 136.77,435.06 137.9,435.94 C139.02,436.81 140.28,437.52 141.66,438.19 C143.04,438.87 144.79,439.88 146.17,440 C147.55,440.13 148.56,439.5 149.94,438.95 C151.32,438.4 153.07,437.57 154.45,436.69 C155.83,435.81 156.96,434.68 158.21,433.68 C159.47,432.68 160.85,431.72 161.98,430.67 C163.11,429.62 163.86,428.06 164.99,427.36 C166.12,426.66 167.62,426.53 168.75,426.45 C169.88,426.38 170.59,426.5 171.76,426.91 C172.93,427.31 174.47,427.98 175.76,428.86 C177.06,429.74 178.27,431.12 179.53,432.17 C180.78,433.23 182.03,434.48 183.29,435.18 C184.54,435.89 185.8,436.64 187.05,436.39 C188.31,436.14 189.56,434.88 190.81,433.68 C192.07,432.48 193.32,430.54 194.58,429.16 C195.83,427.78 197.09,425.78 198.34,425.4 C199.59,425.02 200.85,426.23 202.1,426.91 C203.36,427.58 204.61,428.84 205.87,429.46 C207.12,430.09 208.37,430.67 209.63,430.67 C210.88,430.67 212.14,429.77 213.39,429.46 C214.64,429.16 215.9,428.86 217.15,428.86 C218.41,428.86 219.66,429.46 220.92,429.46 C222.17,429.46 223.3,429.11 224.68,428.86 C226.06,428.61 227.81,428.11 229.19,427.96 C230.57,427.81 231.83,428.51 232.96,427.96 C234.09,427.41 234.96,425.95 235.97,424.65 C236.97,423.34 237.97,421.19 238.98,420.13 C239.98,419.08 240.86,418.28 241.99,418.33 C243.12,418.38 244.62,419.83 245.75,420.43 C246.88,421.04 247.43,422.04 248.76,421.94 C250.1,421.84 252.3,420.51 253.76,419.83 C255.22,419.15 256.15,418.7 257.53,417.88 C258.91,417.05 260.54,415.74 262.04,414.87 C263.55,413.99 265.3,413.11 266.56,412.61 C267.81,412.11 268.44,412.11 269.57,411.85 C270.7,411.6 272.08,411.78 273.33,411.1 C274.58,410.43 275.71,408.84 277.09,407.79 C278.47,406.74 280.23,405.11 281.61,404.78 C282.99,404.45 284.12,405.41 285.37,405.83 C286.62,406.26 287.88,406.96 289.13,407.34 C290.39,407.72 291.77,407.59 292.9,408.09 C294.02,408.59 294.9,409.47 295.91,410.35 C296.91,411.23 297.91,412.36 298.92,413.36 C299.92,414.36 301.05,415.92 301.93,416.37 C302.8,416.82 303.31,416.57 304.18,416.07 C305.06,415.57 306.19,414.06 307.19,413.36 C308.2,412.66 309.2,411.85 310.2,411.85 C311.21,411.85 312.09,412.68 313.21,413.36 C314.34,414.04 315.85,416.04 316.98,415.92 C318.11,415.79 319.11,414.29 319.99,412.61 C320.87,410.93 321.49,407.97 322.25,405.83 C323,403.7 323.75,401.19 324.5,399.81 C325.26,398.43 326.38,397.93 326.76,397.56" fill="none" stroke="#0000ff" stroke-width="0.85" stroke-linejoin="round"/>
<path d="M32.3,446.47 C32.93,446.35 34.68,445.97 36.06,445.72 C37.44,445.47 39.07,445.22 40.58,444.97 C42.08,444.72 43.59,444.72 45.09,444.21 C46.6,443.71 48.1,442.58 49.61,441.96 C51.11,441.33 52.82,440.83 54.12,440.45 C55.43,440.08 56.31,440.45 57.43,439.7 C58.56,438.95 59.69,436.94 60.9,435.94 C62.1,434.93 63.28,433.93 64.66,433.68 C66.04,433.43 67.67,434.43 69.17,434.43 C70.68,434.43 72.18,433.68 73.69,433.68 C75.19,433.68 76.95,434.06 78.2,434.43 C79.46,434.81 80.21,435.56 81.21,435.94 C82.22,436.31 83.22,436.94 84.23,436.69 C85.23,436.44 86.11,434.81 87.24,434.43 C88.36,434.06 89.87,434.18 91,434.43 C92.13,434.68 93.13,435.31 94.01,435.94 C94.89,436.56 95.35,437.82 96.27,438.19 C97.18,438.57 98.22,438.32 99.52,438.19 C100.81,438.07 102.53,437.82 104.03,437.44 C105.54,437.07 107.29,436.06 108.55,435.94 C109.8,435.81 110.43,436.06 111.56,436.69 C112.69,437.32 114.06,438.95 115.32,439.7 C116.57,440.45 117.95,441.08 119.08,441.2 C120.21,441.33 120.96,441.2 122.09,440.45 C123.22,439.7 124.6,437.82 125.85,436.69 C127.11,435.56 128.36,434.31 129.62,433.68 C130.87,433.05 132.13,432.8 133.38,432.93 C134.63,433.05 135.89,433.93 137.14,434.43 C138.4,434.93 139.53,435.56 140.91,435.94 C142.29,436.31 143.92,436.81 145.42,436.69 C146.93,436.56 148.43,435.56 149.94,435.18 C151.44,434.81 152.95,434.81 154.45,434.43 C155.96,434.06 157.46,433.55 158.97,432.93 C160.47,432.3 161.98,431.25 163.48,430.67 C164.99,430.09 166.62,429.77 168,429.46 C169.38,429.16 170.47,428.41 171.76,428.86 C173.06,429.31 174.47,431.25 175.76,432.17 C177.06,433.1 178.27,433.93 179.53,434.43 C180.78,434.93 182.03,435.18 183.29,435.18 C184.54,435.18 185.8,434.81 187.05,434.43 C188.31,434.06 189.56,433.55 190.81,432.93 C192.07,432.3 193.32,431.67 194.58,430.67 C195.83,429.67 197.09,427.78 198.34,426.91 C199.59,426.03 200.85,425.53 202.1,425.4 C203.36,425.28 204.61,425.65 205.87,426.15 C207.12,426.66 208.37,427.78 209.63,428.41 C210.88,429.04 212.14,429.54 213.39,429.92 C214.64,430.29 215.9,430.67 217.15,430.67 C218.41,430.67 219.66,430.42 220.92,429.92 C222.17,429.41 223.42,428.41 224.68,427.66 C225.93,426.91 227.19,425.95 228.44,425.4 C229.7,424.85 230.95,424.6 232.2,424.35 C233.46,424.1 234.71,424.1 235.97,423.9 C237.22,423.7 238.48,423.39 239.73,423.14 C240.98,422.89 242.24,422.64 243.49,422.39 C244.75,422.14 245.42,422.06 247.26,421.64 C249.09,421.21 252.55,420.21 254.52,419.83 C256.48,419.46 257.53,419.58 259.03,419.38 C260.54,419.18 262.04,418.88 263.55,418.63 C265.05,418.38 266.56,418.25 268.06,417.88 C269.57,417.5 271.2,417.25 272.58,416.37 C273.96,415.49 275.09,413.74 276.34,412.61 C277.59,411.48 278.85,410.22 280.1,409.6 C281.36,408.97 282.61,408.84 283.87,408.84 C285.12,408.84 286.37,408.97 287.63,409.6 C288.88,410.22 290.14,411.48 291.39,412.61 C292.64,413.74 294.02,415.49 295.15,416.37 C296.28,417.25 297.03,417.37 298.16,417.88 C299.29,418.38 300.67,419.26 301.93,419.38 C303.18,419.51 304.44,419 305.69,418.63 C306.94,418.25 308.2,417.25 309.45,417.12 C310.71,417 312.09,417.5 313.21,417.88 C314.34,418.25 315.22,419.38 316.23,419.38 C317.23,419.38 318.23,419 319.24,417.88 C320.24,416.75 321.37,414.24 322.25,412.61 C323.12,410.98 323.75,409.1 324.5,408.09 C325.26,407.09 326.38,406.84 326.76,406.59 L326.76,424.65 C326.26,424.9 324.63,425.15 323.75,426.15 C322.87,427.16 322.25,429.04 321.49,430.67 C320.74,432.3 320.11,434.56 319.24,435.94 C318.36,437.32 317.23,438.57 316.23,438.95 C315.22,439.32 314.34,438.57 313.21,438.19 C312.09,437.82 310.71,436.69 309.45,436.69 C308.2,436.69 306.94,437.82 305.69,438.19 C304.44,438.57 303.18,438.95 301.93,438.95 C300.67,438.95 299.29,438.57 298.16,438.19 C297.03,437.82 296.28,437.57 295.15,436.69 C294.02,435.81 292.64,433.98 291.39,432.93 C290.14,431.87 288.88,430.99 287.63,430.37 C286.37,429.74 285.12,429.24 283.87,429.16 C282.61,429.09 281.36,429.29 280.1,429.92 C278.85,430.54 277.59,431.8 276.34,432.93 C275.09,434.06 273.96,435.74 272.58,436.69 C271.2,437.64 269.57,438.27 268.06,438.65 C266.56,439.02 265.05,438.9 263.55,438.95 C262.04,439 260.54,438.82 259.03,438.95 C257.53,439.07 256.48,439.57 254.52,439.7 C252.55,439.83 249.09,439.57 247.26,439.7 C245.42,439.83 244.75,440.08 243.49,440.45 C242.24,440.83 240.98,441.53 239.73,441.96 C238.48,442.38 237.22,442.84 235.97,443.01 C234.71,443.19 233.46,442.81 232.2,443.01 C230.95,443.21 229.7,443.64 228.44,444.21 C227.19,444.79 225.93,445.59 224.68,446.47 C223.42,447.35 222.17,448.81 220.92,449.48 C219.66,450.16 218.41,450.54 217.15,450.54 C215.9,450.54 214.64,450.03 213.39,449.48 C212.14,448.93 210.88,448.1 209.63,447.23 C208.37,446.35 207.12,444.97 205.87,444.21 C204.61,443.46 203.36,442.71 202.1,442.71 C200.85,442.71 199.59,443.46 198.34,444.21 C197.09,444.97 195.83,446.22 194.58,447.23 C193.32,448.23 192.07,449.48 190.81,450.24 C189.56,450.99 188.31,451.24 187.05,451.74 C185.8,452.24 184.54,452.87 183.29,453.25 C182.03,453.62 180.78,454.12 179.53,454 C178.27,453.87 177.06,452.99 175.76,452.49 C174.47,451.99 173.06,451.11 171.76,450.99 C170.47,450.86 169.38,451.36 168,451.74 C166.62,452.12 164.99,452.74 163.48,453.25 C161.98,453.75 160.47,454.25 158.97,454.75 C157.46,455.25 155.96,455.88 154.45,456.26 C152.95,456.63 151.44,456.88 149.94,457.01 C148.43,457.13 146.93,457.13 145.42,457.01 C143.92,456.88 142.29,456.63 140.91,456.26 C139.53,455.88 138.4,455.25 137.14,454.75 C135.89,454.25 134.63,453.37 133.38,453.25 C132.13,453.12 130.87,453.37 129.62,454 C128.36,454.63 127.11,456.01 125.85,457.01 C124.6,458.01 123.22,459.39 122.09,460.02 C120.96,460.65 120.21,460.9 119.08,460.77 C117.95,460.65 116.57,459.77 115.32,459.27 C114.06,458.76 112.69,458.26 111.56,457.76 C110.43,457.26 109.8,456.26 108.55,456.26 C107.29,456.26 105.54,457.38 104.03,457.76 C102.53,458.14 100.81,458.51 99.52,458.51 C98.22,458.51 97.31,458.14 96.27,457.76 C95.22,457.38 94.26,456.76 93.26,456.26 C92.25,455.75 91.25,454.88 90.25,454.75 C89.24,454.63 88.24,455.13 87.24,455.5 C86.23,455.88 85.23,456.76 84.23,457.01 C83.22,457.26 82.22,457.26 81.21,457.01 C80.21,456.76 79.46,455.88 78.2,455.5 C76.95,455.13 75.07,454.75 73.69,454.75 C72.31,454.75 71.31,455.5 69.93,455.5 C68.55,455.5 66.79,454.37 65.41,454.75 C64.03,455.13 62.9,456.88 61.65,457.76 C60.39,458.64 59.14,459.39 57.89,460.02 C56.63,460.65 55.5,461.02 54.12,461.52 C52.74,462.03 51.11,462.4 49.61,463.03 C48.1,463.66 46.6,464.78 45.09,465.29 C43.59,465.79 42.08,465.79 40.58,466.04 C39.07,466.29 37.44,466.54 36.06,466.79 C34.68,467.04 32.93,467.42 32.3,467.54 Z" fill="rgba(255,0,0,0.30)"/>
<path d="M32.3,456.26 C32.93,456.26 34.68,456.26 36.06,456.26 C37.44,456.26 39.2,456.26 40.58,456.26 C41.96,456.26 43.09,456.63 44.34,456.26 C45.59,455.88 46.85,454.75 48.1,454 C49.36,453.25 50.49,452.24 51.87,451.74 C53.24,451.24 55.13,451.36 56.38,450.99 C57.63,450.61 58.39,450.36 59.39,449.48 C60.39,448.6 61.4,446.72 62.4,445.72 C63.4,444.72 64.16,443.71 65.41,443.46 C66.67,443.21 68.55,444.09 69.93,444.21 C71.31,444.34 72.44,444.09 73.69,444.21 C74.94,444.34 76.2,444.72 77.45,444.97 C78.71,445.22 80.09,445.59 81.21,445.72 C82.34,445.85 83.22,445.97 84.23,445.72 C85.23,445.47 86.23,444.52 87.24,444.21 C88.24,443.91 89.24,443.66 90.25,443.91 C91.25,444.16 92.38,445.04 93.26,445.72 C94.13,446.4 94.72,447.48 95.51,447.98 C96.31,448.48 97.09,448.73 98.01,448.73 C98.93,448.73 100.02,448.23 101.02,447.98 C102.02,447.73 102.78,447.55 104.03,447.23 C105.28,446.9 107.29,446.02 108.55,446.02 C109.8,446.02 110.55,446.65 111.56,447.23 C112.56,447.8 113.56,448.86 114.57,449.48 C115.57,450.11 116.7,450.74 117.58,450.99 C118.45,451.24 118.83,451.49 119.83,450.99 C120.84,450.49 122.34,448.98 123.6,447.98 C124.85,446.97 126.11,445.72 127.36,444.97 C128.61,444.21 129.99,443.59 131.12,443.46 C132.25,443.34 133,443.84 134.13,444.21 C135.26,444.59 136.64,445.34 137.9,445.72 C139.15,446.1 140.28,446.35 141.66,446.47 C143.04,446.6 144.67,446.47 146.17,446.47 C147.68,446.47 149.18,446.6 150.69,446.47 C152.19,446.35 153.7,446.15 155.2,445.72 C156.71,445.29 158.21,444.54 159.72,443.91 C161.23,443.29 162.73,442.53 164.24,441.96 C165.74,441.38 167.5,440.75 168.75,440.45 C170.01,440.15 170.72,440.03 171.76,440.15 C172.8,440.28 173.84,440.65 175.01,441.2 C176.18,441.76 177.52,442.96 178.77,443.46 C180.03,443.96 181.28,444.34 182.54,444.21 C183.79,444.09 185.04,443.21 186.3,442.71 C187.55,442.21 188.68,441.83 190.06,441.2 C191.44,440.58 193.2,439.83 194.58,438.95 C195.96,438.07 197.09,436.69 198.34,435.94 C199.59,435.18 200.85,434.51 202.1,434.43 C203.36,434.36 204.61,434.91 205.87,435.49 C207.12,436.06 208.37,437.19 209.63,437.89 C210.88,438.6 212.14,439.27 213.39,439.7 C214.64,440.13 215.9,440.45 217.15,440.45 C218.41,440.45 219.66,440.28 220.92,439.7 C222.17,439.12 223.42,437.87 224.68,436.99 C225.93,436.11 227.19,434.98 228.44,434.43 C229.7,433.88 230.95,433.93 232.2,433.68 C233.46,433.43 234.71,433.18 235.97,432.93 C237.22,432.68 238.48,432.42 239.73,432.17 C240.98,431.92 242.24,431.67 243.49,431.42 C244.75,431.17 245.42,430.84 247.26,430.67 C249.09,430.49 252.55,430.49 254.52,430.37 C256.48,430.24 257.53,430.07 259.03,429.92 C260.54,429.77 262.04,429.54 263.55,429.46 C265.05,429.39 266.56,429.77 268.06,429.46 C269.57,429.16 271.2,428.71 272.58,427.66 C273.96,426.61 275.09,424.52 276.34,423.14 C277.59,421.76 278.85,420.18 280.1,419.38 C281.36,418.58 282.61,418.25 283.87,418.33 C285.12,418.4 286.37,419.08 287.63,419.83 C288.88,420.58 290.14,421.79 291.39,422.84 C292.64,423.9 294.02,425.23 295.15,426.15 C296.28,427.08 297.16,427.86 298.16,428.41 C299.17,428.96 300.17,429.39 301.17,429.46 C302.18,429.54 303.06,429.41 304.18,428.86 C305.31,428.31 306.82,426.61 307.95,426.15 C309.08,425.7 309.95,425.78 310.96,426.15 C311.96,426.53 313.09,427.86 313.97,428.41 C314.85,428.96 315.35,429.72 316.23,429.46 C317.1,429.21 318.36,428.09 319.24,426.91 C320.11,425.73 320.74,423.77 321.49,422.39 C322.25,421.01 322.87,419.51 323.75,418.63 C324.63,417.75 326.26,417.37 326.76,417.12" fill="none" stroke="#ff0000" stroke-width="0.85" stroke-linejoin="round"/>
<line x1="32.3" y1="443.2" x2="326.8" y2="411.1" stroke="#0000ff" stroke-width="0.75" stroke-dasharray="2 1.3"/>
<line x1="32.3" y1="454.8" x2="326.8" y2="423.1" stroke="#ff0000" stroke-width="0.75" stroke-dasharray="2 1.3"/>
</g>
<line x1="327.9" y1="381.6" x2="327.9" y2="470.5" stroke="#000" stroke-width="1.8"/>
<path d="M341.2,381.6 L18.2,381.6 L18.2,470.5 L341.2,470.5" fill="none" stroke="#8a8a8a" stroke-width="1"/>
<line x1="341.2" y1="381.1" x2="341.2" y2="471" stroke="#8a8a8a" stroke-width="1"/>
<line x1="20.3" y1="470.5" x2="20.3" y2="472.1" stroke="#555" stroke-width="0.8"/>
<text x="20.3" y="477.8" font-size="6.2" text-anchor="middle" fill="#222">0</text>
<line x1="69.6" y1="470.5" x2="69.6" y2="472.1" stroke="#555" stroke-width="0.8"/>
<text x="69.6" y="477.8" font-size="6.2" text-anchor="middle" fill="#222">2</text>
<line x1="118.9" y1="470.5" x2="118.9" y2="472.1" stroke="#555" stroke-width="0.8"/>
<text x="118.9" y="477.8" font-size="6.2" text-anchor="middle" fill="#222">4</text>
<line x1="168.2" y1="470.5" x2="168.2" y2="472.1" stroke="#555" stroke-width="0.8"/>
<text x="168.2" y="477.8" font-size="6.2" text-anchor="middle" fill="#222">6</text>
<line x1="217.5" y1="470.5" x2="217.5" y2="472.1" stroke="#555" stroke-width="0.8"/>
<text x="217.5" y="477.8" font-size="6.2" text-anchor="middle" fill="#222">8</text>
<line x1="266.8" y1="470.5" x2="266.8" y2="472.1" stroke="#555" stroke-width="0.8"/>
<text x="266.8" y="477.8" font-size="6.2" text-anchor="middle" fill="#222">10</text>
<line x1="316.1" y1="470.5" x2="316.1" y2="472.1" stroke="#555" stroke-width="0.8"/>
<text x="316.1" y="477.8" font-size="6.2" text-anchor="middle" fill="#222">12</text>
<line x1="16.6" y1="462.6" x2="18.2" y2="462.6" stroke="#555" stroke-width="0.8"/>
<text x="15.3" y="465.27" font-size="6.2" text-anchor="end" fill="#222">1.0</text>
<line x1="16.6" y1="439" x2="18.2" y2="439" stroke="#555" stroke-width="0.8"/>
<text x="15.3" y="441.67" font-size="6.2" text-anchor="end" fill="#222">1.5</text>
<line x1="16.6" y1="415.4" x2="18.2" y2="415.4" stroke="#555" stroke-width="0.8"/>
<text x="15.3" y="418.07" font-size="6.2" text-anchor="end" fill="#222">2.0</text>
<line x1="16.6" y1="391.8" x2="18.2" y2="391.8" stroke="#555" stroke-width="0.8"/>
<text x="15.3" y="394.47" font-size="6.2" text-anchor="end" fill="#222">2.5</text>
<rect x="21.4" y="383.1" width="95.6" height="20.1" rx="1.5" fill="#fff" stroke="#d9d9d9" stroke-width="0.8"/>
<line x1="23.4" y1="387.7" x2="38.4" y2="387.7" stroke="#6e6eff" stroke-width="1.3"/>
<line x1="23.4" y1="397.1" x2="38.4" y2="397.1" stroke="#ff6e6e" stroke-width="1.3"/>
<text x="43.8" y="390.26" font-size="7.1" text-anchor="start" fill="#111">Epileptic Regions</text>
<text x="43.8" y="399.66" font-size="7.1" text-anchor="start" fill="#111">Non-Epileptic Regions</text>
<text x="179.7" y="378.6" font-size="7.05" text-anchor="middle" fill="#222">DELTA band</text>
<text x="18.4" y="380" font-size="5.6" text-anchor="start" fill="#222">1e−21</text>
<text x="4.7" y="426.8" font-size="6.05" text-anchor="middle" fill="#222" transform="rotate(-90 4.7 426.8)">Power</text>
<g clip-path="url(#cBTR)">
<path d="M375.05,396.8 C376.18,396.43 379.69,394.42 381.82,394.55 C383.96,394.67 386.21,396.55 387.84,397.56 C389.48,398.56 390.35,399.31 391.61,400.57 C392.86,401.82 394.24,403.58 395.37,405.08 C396.5,406.59 397.38,408.22 398.38,409.6 C399.38,410.98 400.39,412.11 401.39,413.36 C402.39,414.61 403.27,415.99 404.4,417.12 C405.53,418.25 407.03,419.38 408.16,420.13 C409.29,420.89 410.17,421.59 411.17,421.64 C412.18,421.69 413.18,420.94 414.18,420.43 C415.19,419.93 416.07,419.43 417.19,418.63 C418.32,417.83 419.7,416.37 420.96,415.62 C422.21,414.87 423.47,414.31 424.72,414.11 C425.97,413.91 427.23,414.29 428.48,414.41 C429.74,414.54 430.99,414.71 432.25,414.87 C433.5,415.02 434.59,415.24 436.01,415.32 C437.43,415.39 439.34,415.57 440.76,415.32 C442.18,415.07 443.27,414.26 444.53,413.81 C445.78,413.36 447.03,412.86 448.29,412.61 C449.54,412.36 450.8,412.18 452.05,412.31 C453.31,412.43 454.56,412.81 455.81,413.36 C457.07,413.91 458.32,414.99 459.58,415.62 C460.83,416.24 462.21,417 463.34,417.12 C464.47,417.25 465.35,416.75 466.35,416.37 C467.35,415.99 468.23,415.37 469.36,414.87 C470.49,414.36 471.99,413.69 473.12,413.36 C474.25,413.03 475.13,412.78 476.13,412.91 C477.14,413.03 478.14,413.61 479.14,414.11 C480.15,414.61 481.15,415.29 482.15,415.92 C483.16,416.55 484.16,417.42 485.16,417.88 C486.17,418.33 487.05,418.75 488.17,418.63 C489.3,418.5 490.81,417.83 491.94,417.12 C493.07,416.42 493.82,415.42 494.95,414.41 C496.08,413.41 497.46,412.03 498.71,411.1 C499.96,410.17 501.34,409.3 502.47,408.84 C503.6,408.39 504.35,408.27 505.48,408.39 C506.61,408.52 507.99,408.89 509.25,409.6 C510.5,410.3 511.71,411.73 513.01,412.61 C514.3,413.49 515.72,414.11 517.01,414.87 C518.3,415.62 519.52,416.62 520.77,417.12 C522.03,417.62 523.28,417.88 524.54,417.88 C525.79,417.88 527.04,417.7 528.3,417.12 C529.55,416.55 530.81,415.22 532.06,414.41 C533.32,413.61 534.44,412.91 535.82,412.31 C537.2,411.7 538.83,411.13 540.34,410.8 C541.84,410.48 543.35,410.3 544.85,410.35 C546.36,410.4 547.87,410.85 549.37,411.1 C550.88,411.35 552.38,411.6 553.89,411.85 C555.39,412.11 556.9,412.43 558.4,412.61 C559.91,412.78 561.41,412.91 562.92,412.91 C564.42,412.91 565.93,412.78 567.43,412.61 C568.94,412.43 570.57,412.23 571.95,411.85 C573.33,411.48 574.46,411.03 575.71,410.35 C576.96,409.67 578.22,408.62 579.47,407.79 C580.73,406.96 581.98,405.96 583.24,405.38 C584.49,404.81 585.74,404.43 587,404.33 C588.25,404.23 589.47,404.4 590.76,404.78 C592.06,405.16 593.47,405.78 594.76,406.59 C596.06,407.39 597.27,408.72 598.53,409.6 C599.78,410.48 601.03,411.15 602.29,411.85 C603.54,412.56 604.8,413.39 606.05,413.81 C607.31,414.24 608.56,414.41 609.81,414.41 C611.07,414.41 612.32,414.11 613.58,413.81 C614.83,413.51 616.09,413.06 617.34,412.61 C618.59,412.16 619.85,411.48 621.1,411.1 C622.36,410.73 623.61,410.55 624.87,410.35 C626.12,410.15 627.37,410.07 628.63,409.9 C629.88,409.72 631.14,409.55 632.39,409.3 C633.64,409.05 634.9,408.79 636.15,408.39 C637.41,407.99 638.66,407.49 639.92,406.89 C641.17,406.29 642.42,405.71 643.68,404.78 C644.93,403.85 646.19,402.77 647.44,401.32 C648.7,399.86 650.08,397.68 651.2,396.05 C652.33,394.42 653.21,392.92 654.21,391.54 C655.22,390.16 656.22,388.73 657.23,387.77 C658.23,386.82 659.23,385.82 660.24,385.82 C661.24,385.82 662.24,386.57 663.25,387.77 C664.25,388.98 665.45,391.54 666.26,393.04 C667.06,394.55 667.51,395.55 668.06,396.8 C668.61,398.06 669.32,399.94 669.57,400.57 L669.57,414.87 C669.32,414.36 668.61,412.78 668.06,411.85 C667.51,410.93 667.06,410.48 666.26,409.3 C665.45,408.12 664.25,405.98 663.25,404.78 C662.24,403.58 661.24,402.15 660.24,402.07 C659.23,402 658.23,403.2 657.23,404.33 C656.22,405.46 655.22,407.34 654.21,408.84 C653.21,410.35 652.33,411.85 651.2,413.36 C650.08,414.87 648.7,416.55 647.44,417.88 C646.19,419.2 644.93,420.41 643.68,421.34 C642.42,422.27 641.17,422.89 639.92,423.44 C638.66,424 637.41,424.32 636.15,424.65 C634.9,424.97 633.64,425.2 632.39,425.4 C631.14,425.6 629.88,425.68 628.63,425.85 C627.37,426.03 626.12,426.2 624.87,426.45 C623.61,426.71 622.36,426.96 621.1,427.36 C619.85,427.76 618.59,428.36 617.34,428.86 C616.09,429.36 614.83,430.02 613.58,430.37 C612.32,430.72 611.07,430.97 609.81,430.97 C608.56,430.97 607.31,430.72 606.05,430.37 C604.8,430.02 603.54,429.57 602.29,428.86 C601.03,428.16 599.78,427.11 598.53,426.15 C597.27,425.2 596.06,424.2 594.76,423.14 C593.47,422.09 592.06,420.46 590.76,419.83 C589.47,419.2 588.25,419.2 587,419.38 C585.74,419.56 584.49,420.26 583.24,420.89 C581.98,421.51 580.73,422.39 579.47,423.14 C578.22,423.9 576.96,424.77 575.71,425.4 C574.46,426.03 573.33,426.48 571.95,426.91 C570.57,427.33 568.94,427.78 567.43,427.96 C565.93,428.14 564.42,428.06 562.92,427.96 C561.41,427.86 559.91,427.66 558.4,427.36 C556.9,427.06 555.39,426.55 553.89,426.15 C552.38,425.75 550.88,425.25 549.37,424.95 C547.87,424.65 546.36,424.4 544.85,424.35 C543.35,424.3 541.84,424.22 540.34,424.65 C538.83,425.07 537.2,426.03 535.82,426.91 C534.44,427.78 533.32,428.99 532.06,429.92 C530.81,430.84 529.55,431.85 528.3,432.48 C527.04,433.1 525.79,433.6 524.54,433.68 C523.28,433.75 522.03,433.43 520.77,432.93 C519.52,432.42 518.3,431.35 517.01,430.67 C515.72,429.99 514.3,429.67 513.01,428.86 C511.71,428.06 510.5,426.63 509.25,425.85 C507.99,425.07 506.61,424.4 505.48,424.2 C504.35,424 503.6,424.2 502.47,424.65 C501.34,425.1 499.96,426.03 498.71,426.91 C497.46,427.78 496.08,428.91 494.95,429.92 C493.82,430.92 493.07,432.25 491.94,432.93 C490.81,433.6 489.3,433.9 488.17,433.98 C487.05,434.06 486.17,433.8 485.16,433.38 C484.16,432.95 483.16,432.07 482.15,431.42 C481.15,430.77 480.15,429.97 479.14,429.46 C478.14,428.96 477.14,428.51 476.13,428.41 C475.13,428.31 474.25,428.49 473.12,428.86 C471.99,429.24 470.49,430.12 469.36,430.67 C468.23,431.22 467.35,431.92 466.35,432.17 C465.35,432.42 464.47,432.48 463.34,432.17 C462.21,431.87 460.83,431.07 459.58,430.37 C458.32,429.67 457.07,428.54 455.81,427.96 C454.56,427.38 453.31,427.08 452.05,426.91 C450.8,426.73 449.54,426.66 448.29,426.91 C447.03,427.16 445.78,427.91 444.53,428.41 C443.27,428.91 442.56,429.54 440.76,429.92 C438.97,430.29 435.67,430.59 433.75,430.67 C431.83,430.74 430.62,430.37 429.24,430.37 C427.86,430.37 426.73,430.24 425.47,430.67 C424.22,431.1 422.96,432.17 421.71,432.93 C420.46,433.68 419.08,434.43 417.95,435.18 C416.82,435.94 415.94,436.81 414.94,437.44 C413.93,438.07 413.06,438.87 411.93,438.95 C410.8,439.02 409.29,438.4 408.16,437.89 C407.03,437.39 406.16,436.76 405.15,435.94 C404.15,435.11 403.15,434.06 402.14,432.93 C401.14,431.8 400.14,430.54 399.13,429.16 C398.13,427.78 397.25,426.4 396.12,424.65 C394.99,422.89 393.61,420.26 392.36,418.63 C391.11,417 389.73,415.87 388.6,414.87 C387.47,413.86 386.72,413.23 385.59,412.61 C384.46,411.98 383.08,411.23 381.82,411.1 C380.57,410.98 379.19,411.4 378.06,411.85 C376.93,412.31 375.55,413.49 375.05,413.81 Z" fill="rgba(0,0,255,0.31)"/>
<path d="M375.05,405.83 C375.55,405.58 376.93,404.83 378.06,404.33 C379.19,403.83 380.7,402.95 381.82,402.82 C382.95,402.7 383.83,403.08 384.83,403.58 C385.84,404.08 386.72,404.96 387.84,405.83 C388.97,406.71 390.35,407.59 391.61,408.84 C392.86,410.1 394.24,411.73 395.37,413.36 C396.5,414.99 397.38,417 398.38,418.63 C399.38,420.26 400.39,421.64 401.39,423.14 C402.39,424.65 403.4,426.4 404.4,427.66 C405.4,428.91 406.28,430.04 407.41,430.67 C408.54,431.3 410.05,431.55 411.17,431.42 C412.3,431.3 413.18,430.54 414.18,429.92 C415.19,429.29 416.07,428.54 417.19,427.66 C418.32,426.78 419.7,425.53 420.96,424.65 C422.21,423.77 423.47,422.89 424.72,422.39 C425.97,421.89 427.23,421.64 428.48,421.64 C429.74,421.64 430.99,422.14 432.25,422.39 C433.5,422.64 434.59,423.14 436.01,423.14 C437.43,423.14 439.34,422.77 440.76,422.39 C442.18,422.01 443.27,421.31 444.53,420.89 C445.78,420.46 447.03,420.01 448.29,419.83 C449.54,419.66 450.8,419.66 452.05,419.83 C453.31,420.01 454.56,420.33 455.81,420.89 C457.07,421.44 458.32,422.52 459.58,423.14 C460.83,423.77 462.21,424.4 463.34,424.65 C464.47,424.9 465.35,424.9 466.35,424.65 C467.35,424.4 468.23,423.77 469.36,423.14 C470.49,422.52 471.99,421.34 473.12,420.89 C474.25,420.43 475.13,420.26 476.13,420.43 C477.14,420.61 478.14,421.36 479.14,421.94 C480.15,422.52 481.15,423.32 482.15,423.9 C483.16,424.47 484.16,425.02 485.16,425.4 C486.17,425.78 487.17,426.23 488.17,426.15 C489.18,426.08 490.18,425.58 491.18,424.95 C492.19,424.32 493.07,423.32 494.19,422.39 C495.32,421.46 496.7,420.31 497.96,419.38 C499.21,418.45 500.47,417.32 501.72,416.82 C502.97,416.32 504.23,416.19 505.48,416.37 C506.74,416.55 507.99,417.12 509.25,417.88 C510.5,418.63 511.71,420.13 513.01,420.89 C514.3,421.64 515.72,421.71 517.01,422.39 C518.3,423.07 519.52,424.37 520.77,424.95 C522.03,425.53 523.28,425.9 524.54,425.85 C525.79,425.8 527.04,425.3 528.3,424.65 C529.55,424 530.81,422.82 532.06,421.94 C533.32,421.06 534.57,420.06 535.82,419.38 C537.08,418.7 538.21,418.2 539.59,417.88 C540.97,417.55 542.6,417.35 544.1,417.42 C545.61,417.5 547.11,418 548.62,418.33 C550.12,418.65 551.63,419.08 553.13,419.38 C554.64,419.68 556.14,419.96 557.65,420.13 C559.15,420.31 560.66,420.38 562.16,420.43 C563.67,420.48 565.17,420.53 566.68,420.43 C568.18,420.33 569.81,420.18 571.19,419.83 C572.57,419.48 573.7,419.03 574.96,418.33 C576.21,417.62 577.47,416.52 578.72,415.62 C579.97,414.71 581.23,413.61 582.48,412.91 C583.74,412.21 584.99,411.58 586.25,411.4 C587.5,411.23 588.59,411.28 590.01,411.85 C591.43,412.43 593.34,413.86 594.76,414.87 C596.18,415.87 597.27,416.95 598.53,417.88 C599.78,418.8 601.03,419.68 602.29,420.43 C603.54,421.19 604.8,421.94 606.05,422.39 C607.31,422.84 608.56,423.14 609.81,423.14 C611.07,423.14 612.32,422.77 613.58,422.39 C614.83,422.01 616.09,421.39 617.34,420.89 C618.59,420.38 619.85,419.76 621.1,419.38 C622.36,419 623.61,418.8 624.87,418.63 C626.12,418.45 627.37,418.53 628.63,418.33 C629.88,418.13 631.14,417.75 632.39,417.42 C633.64,417.1 634.9,416.72 636.15,416.37 C637.41,416.02 638.66,415.82 639.92,415.32 C641.17,414.81 642.42,414.19 643.68,413.36 C644.93,412.53 646.19,411.73 647.44,410.35 C648.7,408.97 650.08,406.84 651.2,405.08 C652.33,403.33 653.21,401.44 654.21,399.81 C655.22,398.18 656.22,396.43 657.23,395.3 C658.23,394.17 659.23,392.92 660.24,393.04 C661.24,393.17 662.24,394.8 663.25,396.05 C664.25,397.31 665.45,399.19 666.26,400.57 C667.06,401.95 667.51,403.08 668.06,404.33 C668.61,405.58 669.32,407.46 669.57,408.09" fill="none" stroke="#0000ff" stroke-width="0.85" stroke-linejoin="round"/>
<path d="M375.05,444.21 C375.55,443.84 376.93,442.51 378.06,441.96 C379.19,441.41 380.57,440.9 381.82,440.9 C383.08,440.9 384.33,441.28 385.59,441.96 C386.84,442.63 388.1,443.96 389.35,444.97 C390.6,445.97 391.86,447.1 393.11,447.98 C394.37,448.86 395.62,449.61 396.88,450.24 C398.13,450.86 399.26,451.29 400.64,451.74 C402.02,452.19 403.65,452.69 405.15,452.94 C406.66,453.2 408.16,453.2 409.67,453.25 C411.17,453.3 412.68,453.3 414.18,453.25 C415.69,453.2 417.19,453.07 418.7,452.94 C420.2,452.82 421.71,452.69 423.21,452.49 C424.72,452.29 426.23,451.92 427.73,451.74 C429.24,451.56 430.74,451.56 432.25,451.44 C433.75,451.31 435.34,451.31 436.76,450.99 C438.18,450.66 439.47,450.11 440.76,449.48 C442.06,448.86 443.27,447.85 444.53,447.23 C445.78,446.6 447.03,446.02 448.29,445.72 C449.54,445.42 450.8,445.29 452.05,445.42 C453.31,445.54 454.56,445.92 455.81,446.47 C457.07,447.02 458.32,447.9 459.58,448.73 C460.83,449.56 462.09,450.74 463.34,451.44 C464.59,452.14 465.72,452.44 467.1,452.94 C468.48,453.45 470.11,454.1 471.62,454.45 C473.12,454.8 474.63,454.83 476.13,455.05 C477.64,455.28 479.14,455.65 480.65,455.8 C482.15,455.95 483.66,456.08 485.16,455.95 C486.67,455.83 488.17,455.38 489.68,455.05 C491.18,454.73 492.69,454.35 494.19,454 C495.7,453.65 497.2,453.2 498.71,452.94 C500.21,452.69 501.72,452.64 503.23,452.49 C504.73,452.34 506.24,452.17 507.74,452.04 C509.25,451.92 510.59,451.67 512.26,451.74 C513.93,451.82 516.22,452.29 517.76,452.49 C519.31,452.69 520.27,452.87 521.53,452.94 C522.78,453.02 524.03,453.1 525.29,452.94 C526.54,452.79 527.8,452.44 529.05,452.04 C530.31,451.64 531.56,450.96 532.81,450.54 C534.07,450.11 535.32,449.78 536.58,449.48 C537.83,449.18 539.09,448.91 540.34,448.73 C541.59,448.55 542.72,448.43 544.1,448.43 C545.48,448.43 547.11,448.55 548.62,448.73 C550.12,448.91 551.63,449.23 553.13,449.48 C554.64,449.73 556.14,450.03 557.65,450.24 C559.15,450.44 560.66,450.64 562.16,450.69 C563.67,450.74 565.17,450.61 566.68,450.54 C568.18,450.46 569.69,450.34 571.19,450.24 C572.7,450.14 574.2,450.01 575.71,449.93 C577.21,449.86 578.72,449.83 580.23,449.78 C581.73,449.73 583.24,449.63 584.74,449.63 C586.25,449.63 587.59,449.73 589.26,449.78 C590.93,449.83 593.22,449.81 594.76,449.93 C596.31,450.06 597.27,450.44 598.53,450.54 C599.78,450.64 601.03,450.64 602.29,450.54 C603.54,450.44 604.8,450.19 606.05,449.93 C607.31,449.68 608.56,449.36 609.81,449.03 C611.07,448.71 612.32,448.35 613.58,447.98 C614.83,447.6 616.09,447.2 617.34,446.77 C618.59,446.35 619.85,445.85 621.1,445.42 C622.36,444.99 623.61,444.62 624.87,444.21 C626.12,443.81 627.37,443.39 628.63,443.01 C629.88,442.63 631.14,442.31 632.39,441.96 C633.64,441.61 634.9,441.28 636.15,440.9 C637.41,440.53 638.66,440.1 639.92,439.7 C641.17,439.3 642.42,438.82 643.68,438.5 C644.93,438.17 646.19,437.97 647.44,437.74 C648.7,437.52 649.95,437.27 651.2,437.14 C652.46,437.02 653.71,436.94 654.97,436.99 C656.22,437.04 657.48,437.19 658.73,437.44 C659.98,437.69 661.24,438.07 662.49,438.5 C663.75,438.92 665.08,439.42 666.26,440 C667.43,440.58 669.02,441.63 669.57,441.96 L669.57,451.74 C669.02,451.49 667.43,450.74 666.26,450.24 C665.08,449.73 663.75,449.11 662.49,448.73 C661.24,448.35 659.98,448.18 658.73,447.98 C657.48,447.78 656.22,447.53 654.97,447.53 C653.71,447.53 652.46,447.78 651.2,447.98 C649.95,448.18 648.7,448.4 647.44,448.73 C646.19,449.06 644.93,449.56 643.68,449.93 C642.42,450.31 641.17,450.64 639.92,450.99 C638.66,451.34 637.41,451.67 636.15,452.04 C634.9,452.42 633.64,452.87 632.39,453.25 C631.14,453.62 629.88,453.97 628.63,454.3 C627.37,454.63 626.12,454.88 624.87,455.2 C623.61,455.53 622.36,455.9 621.1,456.26 C619.85,456.61 618.59,456.93 617.34,457.31 C616.09,457.69 614.83,458.14 613.58,458.51 C612.32,458.89 611.07,459.27 609.81,459.57 C608.56,459.87 607.31,460.12 606.05,460.32 C604.8,460.52 603.54,460.7 602.29,460.77 C601.03,460.85 599.78,460.82 598.53,460.77 C597.27,460.72 596.31,460.77 594.76,460.47 C593.22,460.17 590.93,459.22 589.26,458.97 C587.59,458.71 586.25,458.91 584.74,458.97 C583.24,459.02 581.73,459.17 580.23,459.27 C578.72,459.37 577.21,459.44 575.71,459.57 C574.2,459.69 572.7,459.87 571.19,460.02 C569.69,460.17 568.18,460.42 566.68,460.47 C565.17,460.52 563.67,460.42 562.16,460.32 C560.66,460.22 559.15,460.09 557.65,459.87 C556.14,459.64 554.64,459.22 553.13,458.97 C551.63,458.71 550.12,458.51 548.62,458.36 C547.11,458.21 545.48,458.04 544.1,458.06 C542.72,458.09 541.59,458.19 540.34,458.51 C539.09,458.84 537.83,459.52 536.58,460.02 C535.32,460.52 534.07,461.02 532.81,461.52 C531.56,462.03 530.31,462.7 529.05,463.03 C527.8,463.36 526.54,463.41 525.29,463.48 C524.03,463.56 522.78,463.63 521.53,463.48 C520.27,463.33 519.31,462.83 517.76,462.58 C516.22,462.33 513.93,462.03 512.26,461.98 C510.59,461.93 509.25,462.18 507.74,462.28 C506.24,462.38 504.73,462.38 503.23,462.58 C501.72,462.78 500.21,463.15 498.71,463.48 C497.2,463.81 495.7,464.18 494.19,464.53 C492.69,464.89 491.18,465.26 489.68,465.59 C488.17,465.91 486.67,466.42 485.16,466.49 C483.66,466.57 482.15,466.24 480.65,466.04 C479.14,465.84 477.64,465.54 476.13,465.29 C474.63,465.04 473.12,464.91 471.62,464.53 C470.11,464.16 468.48,463.53 467.1,463.03 C465.72,462.53 464.59,462.28 463.34,461.52 C462.09,460.77 460.83,459.39 459.58,458.51 C458.32,457.64 457.07,456.83 455.81,456.26 C454.56,455.68 453.31,455.1 452.05,455.05 C450.8,455 449.54,455.5 448.29,455.95 C447.03,456.41 445.78,457.08 444.53,457.76 C443.27,458.44 442.06,459.47 440.76,460.02 C439.47,460.57 438.18,460.82 436.76,461.07 C435.34,461.32 433.75,461.37 432.25,461.52 C430.74,461.67 429.24,461.72 427.73,461.98 C426.23,462.23 424.72,462.73 423.21,463.03 C421.71,463.33 420.2,463.61 418.7,463.78 C417.19,463.96 415.69,464.08 414.18,464.08 C412.68,464.08 411.17,463.96 409.67,463.78 C408.16,463.61 406.66,463.41 405.15,463.03 C403.65,462.65 402.02,462.03 400.64,461.52 C399.26,461.02 398.13,460.65 396.88,460.02 C395.62,459.39 394.37,458.64 393.11,457.76 C391.86,456.88 390.6,455.75 389.35,454.75 C388.1,453.75 386.84,452.44 385.59,451.74 C384.33,451.04 383.08,450.54 381.82,450.54 C380.57,450.54 379.19,451.16 378.06,451.74 C376.93,452.32 375.55,453.62 375.05,454 Z" fill="rgba(255,0,0,0.30)"/>
<path d="M375.05,449.48 C375.55,448.98 376.93,447.15 378.06,446.47 C379.19,445.8 380.7,445.42 381.82,445.42 C382.95,445.42 383.83,445.8 384.83,446.47 C385.84,447.15 386.72,448.48 387.84,449.48 C388.97,450.49 390.35,451.62 391.61,452.49 C392.86,453.37 394.12,454.07 395.37,454.75 C396.62,455.43 397.75,456.06 399.13,456.56 C400.51,457.06 402.14,457.43 403.65,457.76 C405.15,458.09 406.66,458.31 408.16,458.51 C409.67,458.71 411.17,458.89 412.68,458.97 C414.18,459.04 415.69,459.12 417.19,458.97 C418.7,458.81 420.2,458.39 421.71,458.06 C423.21,457.74 424.72,457.31 426.23,457.01 C427.73,456.71 429.24,456.38 430.74,456.26 C432.25,456.13 433.59,456.51 435.26,456.26 C436.93,456.01 439.22,455.38 440.76,454.75 C442.31,454.12 443.27,453.2 444.53,452.49 C445.78,451.79 447.03,450.96 448.29,450.54 C449.54,450.11 450.8,449.86 452.05,449.93 C453.31,450.01 454.56,450.44 455.81,450.99 C457.07,451.54 458.32,452.37 459.58,453.25 C460.83,454.12 462.09,455.5 463.34,456.26 C464.59,457.01 465.72,457.26 467.1,457.76 C468.48,458.26 470.11,458.89 471.62,459.27 C473.12,459.64 474.63,459.77 476.13,460.02 C477.64,460.27 479.14,460.6 480.65,460.77 C482.15,460.95 483.66,461.12 485.16,461.07 C486.67,461.02 488.17,460.77 489.68,460.47 C491.18,460.17 492.69,459.67 494.19,459.27 C495.7,458.86 497.2,458.36 498.71,458.06 C500.21,457.76 501.72,457.64 503.23,457.46 C504.73,457.28 506.24,457.13 507.74,457.01 C509.25,456.88 510.59,456.58 512.26,456.71 C513.93,456.83 516.22,457.46 517.76,457.76 C519.31,458.06 520.27,458.39 521.53,458.51 C522.78,458.64 524.03,458.64 525.29,458.51 C526.54,458.39 527.8,458.14 529.05,457.76 C530.31,457.38 531.56,456.76 532.81,456.26 C534.07,455.75 535.32,455.18 536.58,454.75 C537.83,454.32 539.09,453.95 540.34,453.7 C541.59,453.45 542.72,453.27 544.1,453.25 C545.48,453.22 547.11,453.37 548.62,453.55 C550.12,453.72 551.63,454.05 553.13,454.3 C554.64,454.55 556.14,454.85 557.65,455.05 C559.15,455.25 560.66,455.43 562.16,455.5 C563.67,455.58 565.17,455.55 566.68,455.5 C568.18,455.45 569.69,455.33 571.19,455.2 C572.7,455.08 574.2,454.88 575.71,454.75 C577.21,454.63 578.72,454.52 580.23,454.45 C581.73,454.37 583.24,454.3 584.74,454.3 C586.25,454.3 587.59,454.32 589.26,454.45 C590.93,454.58 593.22,454.88 594.76,455.05 C596.31,455.23 597.27,455.43 598.53,455.5 C599.78,455.58 601.03,455.58 602.29,455.5 C603.54,455.43 604.8,455.25 606.05,455.05 C607.31,454.85 608.56,454.6 609.81,454.3 C611.07,454 612.32,453.62 613.58,453.25 C614.83,452.87 616.09,452.42 617.34,452.04 C618.59,451.67 619.85,451.34 621.1,450.99 C622.36,450.64 623.61,450.31 624.87,449.93 C626.12,449.56 627.37,449.11 628.63,448.73 C629.88,448.35 631.14,448.05 632.39,447.68 C633.64,447.3 634.9,446.85 636.15,446.47 C637.41,446.1 638.66,445.8 639.92,445.42 C641.17,445.04 642.42,444.62 643.68,444.21 C644.93,443.81 646.19,443.31 647.44,443.01 C648.7,442.71 649.95,442.58 651.2,442.41 C652.46,442.23 653.71,441.96 654.97,441.96 C656.22,441.96 657.48,442.16 658.73,442.41 C659.98,442.66 661.24,443.04 662.49,443.46 C663.75,443.89 665.08,444.47 666.26,444.97 C667.43,445.47 669.02,446.22 669.57,446.47" fill="none" stroke="#ff0000" stroke-width="0.85" stroke-linejoin="round"/>
<line x1="375" y1="421.9" x2="669.6" y2="414.1" stroke="#0000ff" stroke-width="0.75" stroke-dasharray="2 1.3"/>
<line x1="375" y1="457.5" x2="669.6" y2="450.5" stroke="#ff0000" stroke-width="0.75" stroke-dasharray="2 1.3"/>
</g>
<path d="M683.7,381.5 L360.4,381.5 L360.4,470.3 L683.7,470.3" fill="none" stroke="#8a8a8a" stroke-width="1"/>
<line x1="683.7" y1="381" x2="683.7" y2="470.8" stroke="#8a8a8a" stroke-width="1"/>
<line x1="397.2" y1="470.3" x2="397.2" y2="471.9" stroke="#555" stroke-width="0.8"/>
<text x="397.2" y="477.8" font-size="6.2" text-anchor="middle" fill="#222">1</text>
<line x1="442.53" y1="470.3" x2="442.53" y2="471.9" stroke="#555" stroke-width="0.8"/>
<text x="442.53" y="477.8" font-size="6.2" text-anchor="middle" fill="#222">2</text>
<line x1="487.86" y1="470.3" x2="487.86" y2="471.9" stroke="#555" stroke-width="0.8"/>
<text x="487.86" y="477.8" font-size="6.2" text-anchor="middle" fill="#222">3</text>
<line x1="533.19" y1="470.3" x2="533.19" y2="471.9" stroke="#555" stroke-width="0.8"/>
<text x="533.19" y="477.8" font-size="6.2" text-anchor="middle" fill="#222">4</text>
<line x1="578.52" y1="470.3" x2="578.52" y2="471.9" stroke="#555" stroke-width="0.8"/>
<text x="578.52" y="477.8" font-size="6.2" text-anchor="middle" fill="#222">5</text>
<line x1="623.85" y1="470.3" x2="623.85" y2="471.9" stroke="#555" stroke-width="0.8"/>
<text x="623.85" y="477.8" font-size="6.2" text-anchor="middle" fill="#222">6</text>
<line x1="669.18" y1="470.3" x2="669.18" y2="471.9" stroke="#555" stroke-width="0.8"/>
<text x="669.18" y="477.8" font-size="6.2" text-anchor="middle" fill="#222">7</text>
<line x1="358.8" y1="460.2" x2="360.4" y2="460.2" stroke="#555" stroke-width="0.8"/>
<text x="357.6" y="462.87" font-size="6.2" text-anchor="end" fill="#222">1.0</text>
<line x1="358.8" y1="441" x2="360.4" y2="441" stroke="#555" stroke-width="0.8"/>
<text x="357.6" y="443.67" font-size="6.2" text-anchor="end" fill="#222">1.5</text>
<line x1="358.8" y1="421.8" x2="360.4" y2="421.8" stroke="#555" stroke-width="0.8"/>
<text x="357.6" y="424.47" font-size="6.2" text-anchor="end" fill="#222">2.0</text>
<line x1="358.8" y1="402.6" x2="360.4" y2="402.6" stroke="#555" stroke-width="0.8"/>
<text x="357.6" y="405.27" font-size="6.2" text-anchor="end" fill="#222">2.5</text>
<line x1="358.8" y1="383.4" x2="360.4" y2="383.4" stroke="#555" stroke-width="0.8"/>
<text x="357.6" y="386.07" font-size="6.2" text-anchor="end" fill="#222">3.0</text>
<rect x="362.2" y="383" width="96.2" height="20.4" rx="1.5" fill="#fff" stroke="#d9d9d9" stroke-width="0.8"/>
<line x1="365" y1="388" x2="380" y2="388" stroke="#5555ff" stroke-width="1.3"/>
<line x1="365" y1="397.4" x2="380" y2="397.4" stroke="#ff5555" stroke-width="1.3"/>
<text x="385.6" y="390.56" font-size="7.1" text-anchor="start" fill="#111">Epileptic Regions</text>
<text x="385.6" y="399.96" font-size="7.1" text-anchor="start" fill="#111">Non-Epileptic Regions</text>
<text x="522.7" y="378.7" font-size="7.05" text-anchor="middle" fill="#222">DELTA band</text>
<text x="361" y="380" font-size="5.6" text-anchor="start" fill="#222">1e−21</text>
<g clip-path="url(#cBBL)">
<path d="M32.3,555.21 C32.55,553.46 33.18,547.69 33.8,544.68 C34.43,541.67 35.18,539.03 36.06,537.15 C36.94,535.27 38.07,534.19 39.07,533.39 C40.08,532.59 40.95,532.41 42.08,532.34 C43.21,532.26 44.72,533.09 45.84,532.94 C46.97,532.79 47.85,531.86 48.85,531.43 C49.86,531.01 50.86,530.68 51.87,530.38 C52.87,530.08 53.87,529.5 54.88,529.63 C55.88,529.75 56.88,531.13 57.89,531.13 C58.89,531.13 59.89,530.76 60.9,529.63 C61.9,528.5 62.78,525.99 63.91,524.36 C65.03,522.73 66.41,520.97 67.67,519.84 C68.92,518.72 70.18,518.21 71.43,517.59 C72.69,516.96 74.07,516.53 75.19,516.08 C76.32,515.63 77.2,515.08 78.2,514.88 C79.21,514.68 80.09,514.68 81.21,514.88 C82.34,515.08 83.85,515.25 84.98,516.08 C86.11,516.91 87.11,518.09 87.99,519.84 C88.87,521.6 89.37,524.49 90.25,526.62 C91.12,528.75 92.25,531.13 93.26,532.64 C94.26,534.14 95.6,535.15 96.27,535.65 C96.93,536.15 96.59,536.15 97.26,535.65 C97.92,535.15 99.26,534.27 100.27,532.64 C101.27,531.01 102.27,528.25 103.28,525.87 C104.28,523.48 105.16,520.35 106.29,518.34 C107.42,516.33 108.8,515.08 110.05,513.82 C111.31,512.57 112.56,510.94 113.81,510.81 C115.07,510.69 116.32,512.44 117.58,513.07 C118.83,513.7 120.21,515.33 121.34,514.58 C122.47,513.82 123.35,510.94 124.35,508.56 C125.35,506.17 126.48,502.16 127.36,500.28 C128.24,498.4 128.87,497.14 129.62,497.27 C130.37,497.39 131.12,498.9 131.88,501.03 C132.63,503.16 133.38,507.3 134.13,510.06 C134.89,512.82 135.51,515.96 136.39,517.59 C137.27,519.22 138.4,519.84 139.4,519.84 C140.4,519.84 141.28,518.46 142.41,517.59 C143.54,516.71 145.05,515.08 146.17,514.58 C147.3,514.08 148.18,513.95 149.18,514.58 C150.19,515.2 151.19,517.21 152.19,518.34 C153.2,519.47 154.2,521.1 155.2,521.35 C156.21,521.6 157.09,520.72 158.21,519.84 C159.34,518.97 160.72,517.09 161.98,516.08 C163.23,515.08 164.49,514.38 165.74,513.82 C166.99,513.27 168.37,512.9 169.5,512.77 C170.63,512.65 171.47,512.82 172.51,513.07 C173.56,513.32 174.59,514.02 175.76,514.28 C176.93,514.53 178.27,514.28 179.53,514.58 C180.78,514.88 182.16,515.33 183.29,516.08 C184.42,516.83 185.3,518.21 186.3,519.09 C187.3,519.97 188.31,521.35 189.31,521.35 C190.31,521.35 191.19,520.22 192.32,519.09 C193.45,517.96 194.95,515.71 196.08,514.58 C197.21,513.45 198.09,512.44 199.09,512.32 C200.1,512.19 201.1,512.95 202.1,513.82 C203.11,514.7 203.98,516.21 205.11,517.59 C206.24,518.97 207.75,520.97 208.88,522.1 C210,523.23 210.88,524.11 211.89,524.36 C212.89,524.61 213.89,523.86 214.9,523.61 C215.9,523.36 216.9,523.23 217.91,522.85 C218.91,522.48 219.91,522.48 220.92,521.35 C221.92,520.22 223.05,517.71 223.93,516.08 C224.8,514.45 225.43,512.52 226.18,511.57 C226.94,510.61 227.69,510.11 228.44,510.36 C229.19,510.61 229.95,511.87 230.7,513.07 C231.45,514.28 232.2,516.21 232.96,517.59 C233.71,518.97 234.34,520.35 235.21,521.35 C236.09,522.35 237.22,523.61 238.23,523.61 C239.23,523.61 240.23,522.15 241.24,521.35 C242.24,520.55 243.24,519.04 244.25,518.79 C245.25,518.54 246.38,519.17 247.26,519.84 C248.13,520.52 248.55,521.6 249.51,522.85 C250.47,524.11 251.8,527.12 253.01,527.37 C254.22,527.62 255.64,525.04 256.77,524.36 C257.9,523.68 258.65,523.23 259.78,523.31 C260.91,523.38 262.42,525.01 263.55,524.81 C264.67,524.61 265.55,524.06 266.56,522.1 C267.56,520.15 268.44,515.96 269.57,513.07 C270.7,510.19 272.08,506.8 273.33,504.79 C274.58,502.79 275.96,501.96 277.09,501.03 C278.22,500.1 279.1,499.1 280.1,499.22 C281.11,499.35 282.11,500.86 283.11,501.78 C284.12,502.71 285.12,504.37 286.12,504.79 C287.13,505.22 288.13,504.72 289.13,504.34 C290.14,503.97 291.14,502.34 292.14,502.54 C293.15,502.74 294.15,504.29 295.15,505.55 C296.16,506.8 297.16,509.43 298.16,510.06 C299.17,510.69 300.17,509.61 301.17,509.31 C302.18,509.01 303.18,507.88 304.18,508.26 C305.19,508.63 306.19,509.89 307.19,511.57 C308.2,513.25 309.2,516.08 310.2,518.34 C311.21,520.6 312.41,523.48 313.21,525.11 C314.02,526.74 314.27,528.12 315.02,528.12 C315.77,528.12 316.78,526.62 317.73,525.11 C318.68,523.61 319.74,521.1 320.74,519.09 C321.74,517.09 322.75,514.38 323.75,513.07 C324.75,511.77 326.26,511.57 326.76,511.27 L326.76,530.83 C326.26,531.26 324.75,532.09 323.75,533.39 C322.75,534.7 321.74,536.78 320.74,538.66 C319.74,540.54 318.68,543.17 317.73,544.68 C316.78,546.18 315.77,547.56 315.02,547.69 C314.27,547.81 314.02,547.06 313.21,545.43 C312.41,543.8 311.21,540.24 310.2,537.91 C309.2,535.57 308.2,533.06 307.19,531.43 C306.19,529.8 305.19,528.42 304.18,528.12 C303.18,527.82 302.18,529.25 301.17,529.63 C300.17,530 299.17,531.01 298.16,530.38 C297.16,529.75 296.16,527.12 295.15,525.87 C294.15,524.61 293.15,522.93 292.14,522.85 C291.14,522.78 290.14,524.91 289.13,525.41 C288.13,525.92 287.13,526.54 286.12,525.87 C285.12,525.19 284.12,522.48 283.11,521.35 C282.11,520.22 281.11,519.09 280.1,519.09 C279.1,519.09 278.22,520.1 277.09,521.35 C275.96,522.6 274.58,524.49 273.33,526.62 C272.08,528.75 270.7,531.63 269.57,534.14 C268.44,536.65 267.56,540.04 266.56,541.67 C265.55,543.3 264.67,543.8 263.55,543.93 C262.42,544.05 260.91,542.55 259.78,542.42 C258.65,542.3 257.9,542.55 256.77,543.17 C255.64,543.8 254.22,546.44 253.01,546.18 C251.8,545.93 250.47,542.8 249.51,541.67 C248.55,540.54 248.13,539.79 247.26,539.41 C246.38,539.03 245.25,538.91 244.25,539.41 C243.24,539.91 242.24,541.67 241.24,542.42 C240.23,543.17 239.23,544.05 238.23,543.93 C237.22,543.8 236.09,542.8 235.21,541.67 C234.34,540.54 233.71,538.78 232.96,537.15 C232.2,535.52 231.45,533.01 230.7,531.89 C229.95,530.76 229.19,530.26 228.44,530.38 C227.69,530.51 226.94,531.51 226.18,532.64 C225.43,533.77 224.8,535.65 223.93,537.15 C223.05,538.66 221.92,540.79 220.92,541.67 C219.91,542.55 218.91,542.05 217.91,542.42 C216.9,542.8 215.9,543.55 214.9,543.93 C213.89,544.3 212.89,544.93 211.89,544.68 C210.88,544.43 210,543.68 208.88,542.42 C207.75,541.17 206.24,538.78 205.11,537.15 C203.98,535.52 203.11,533.52 202.1,532.64 C201.1,531.76 200.1,531.51 199.09,531.89 C198.09,532.26 197.21,533.64 196.08,534.9 C194.95,536.15 193.45,538.41 192.32,539.41 C191.19,540.41 190.31,541.17 189.31,540.92 C188.31,540.67 187.3,538.91 186.3,537.91 C185.3,536.9 184.42,535.72 183.29,534.9 C182.16,534.07 180.78,533.27 179.53,532.94 C178.27,532.61 177.06,532.94 175.76,532.94 C174.47,532.94 172.93,533.04 171.76,532.94 C170.59,532.84 169.88,532.19 168.75,532.34 C167.62,532.49 166.24,533.16 164.99,533.84 C163.73,534.52 162.48,535.22 161.23,536.4 C159.97,537.58 158.59,540.04 157.46,540.92 C156.33,541.79 155.46,542.05 154.45,541.67 C153.45,541.29 152.45,539.79 151.44,538.66 C150.44,537.53 149.44,535.65 148.43,534.9 C147.43,534.14 146.55,533.52 145.42,534.14 C144.29,534.77 142.79,537.53 141.66,538.66 C140.53,539.79 139.53,541.42 138.65,540.92 C137.77,540.41 137.14,537.91 136.39,535.65 C135.64,533.39 134.89,530 134.13,527.37 C133.38,524.74 132.63,521.6 131.88,519.84 C131.12,518.09 130.37,516.71 129.62,516.83 C128.87,516.96 128.24,518.34 127.36,520.6 C126.48,522.85 125.35,528 124.35,530.38 C123.35,532.76 122.47,534.9 121.34,534.9 C120.21,534.9 118.83,531.38 117.58,530.38 C116.32,529.38 115.07,528.62 113.81,528.88 C112.56,529.13 111.31,530.38 110.05,531.89 C108.8,533.39 107.42,535.65 106.29,537.91 C105.16,540.16 104.28,543.05 103.28,545.43 C102.27,547.81 101.27,550.45 100.27,552.2 C99.26,553.96 97.92,555.59 97.26,555.97 C96.59,556.34 96.93,555.34 96.27,554.46 C95.6,553.58 94.26,552.2 93.26,550.7 C92.25,549.19 91.12,547.06 90.25,545.43 C89.37,543.8 88.87,542.05 87.99,540.92 C87.11,539.79 86.11,539.29 84.98,538.66 C83.85,538.03 82.34,537.4 81.21,537.15 C80.09,536.9 79.21,536.9 78.2,537.15 C77.2,537.4 76.32,538.03 75.19,538.66 C74.07,539.29 72.69,540.29 71.43,540.92 C70.18,541.54 68.92,541.67 67.67,542.42 C66.41,543.17 65.03,544.3 63.91,545.43 C62.78,546.56 61.9,548.32 60.9,549.19 C59.89,550.07 58.89,550.57 57.89,550.7 C56.88,550.83 55.88,550.07 54.88,549.95 C53.87,549.82 52.87,549.77 51.87,549.95 C50.86,550.12 49.86,550.62 48.85,551 C47.85,551.38 46.97,552 45.84,552.2 C44.72,552.41 43.21,551.7 42.08,552.2 C40.95,552.71 40.08,553.71 39.07,555.21 C38.07,556.72 36.94,558.98 36.06,561.24 C35.18,563.49 34.43,566.5 33.8,568.76 C33.18,571.02 32.55,573.78 32.3,574.78 Z" fill="rgba(0,0,255,0.31)"/>
<path d="M32.3,565 C32.55,563.87 33.18,560.73 33.8,558.23 C34.43,555.72 35.31,552.2 36.06,549.95 C36.81,547.69 37.57,545.93 38.32,544.68 C39.07,543.42 39.82,542.87 40.58,542.42 C41.33,541.97 41.96,541.84 42.83,541.97 C43.71,542.1 44.84,543.22 45.84,543.17 C46.85,543.12 47.85,542.3 48.85,541.67 C49.86,541.04 50.86,539.71 51.87,539.41 C52.87,539.11 53.87,539.54 54.88,539.86 C55.88,540.19 57.01,541.32 57.89,541.37 C58.76,541.42 59.27,541.12 60.14,540.16 C61.02,539.21 62.15,537.1 63.15,535.65 C64.16,534.19 65.03,532.44 66.16,531.43 C67.29,530.43 68.8,530.18 69.93,529.63 C71.06,529.08 71.93,528.75 72.94,528.12 C73.94,527.5 75.07,526.49 75.95,525.87 C76.83,525.24 77.33,524.61 78.2,524.36 C79.08,524.11 80.21,524.18 81.21,524.36 C82.22,524.54 83.22,524.79 84.23,525.41 C85.23,526.04 86.36,526.92 87.24,528.12 C88.11,529.33 88.74,531.13 89.49,532.64 C90.25,534.14 91,535.52 91.75,537.15 C92.5,538.78 93.26,540.97 94.01,542.42 C94.76,543.88 95.72,545.26 96.27,545.88 C96.81,546.51 96.59,546.76 97.26,546.18 C97.92,545.61 99.26,544.18 100.27,542.42 C101.27,540.67 102.27,538.03 103.28,535.65 C104.28,533.27 105.16,530.38 106.29,528.12 C107.42,525.87 108.8,523.61 110.05,522.1 C111.31,520.6 112.56,519.22 113.81,519.09 C115.07,518.97 116.32,520.35 117.58,521.35 C118.83,522.35 120.21,525.49 121.34,525.11 C122.47,524.74 123.35,521.6 124.35,519.09 C125.35,516.58 126.48,512.12 127.36,510.06 C128.24,508 128.87,506.88 129.62,506.75 C130.37,506.62 131.12,507.63 131.88,509.31 C132.63,510.99 133.38,514.33 134.13,516.83 C134.89,519.34 135.64,522.1 136.39,524.36 C137.14,526.62 137.77,529.75 138.65,530.38 C139.53,531.01 140.53,529.25 141.66,528.12 C142.79,526.99 144.29,524.23 145.42,523.61 C146.55,522.98 147.43,523.48 148.43,524.36 C149.44,525.24 150.44,527.62 151.44,528.88 C152.45,530.13 153.45,531.63 154.45,531.89 C155.46,532.14 156.33,531.38 157.46,530.38 C158.59,529.38 159.97,527.04 161.23,525.87 C162.48,524.69 163.73,523.88 164.99,523.31 C166.24,522.73 167.62,522.48 168.75,522.4 C169.88,522.33 170.59,522.6 171.76,522.85 C172.93,523.11 174.47,523.78 175.76,523.91 C177.06,524.03 178.27,523.36 179.53,523.61 C180.78,523.86 182.16,524.54 183.29,525.41 C184.42,526.29 185.3,527.87 186.3,528.88 C187.3,529.88 188.31,531.36 189.31,531.43 C190.31,531.51 191.32,530.43 192.32,529.33 C193.32,528.22 194.2,526.02 195.33,524.81 C196.46,523.61 197.96,522.3 199.09,522.1 C200.22,521.9 201.1,522.73 202.1,523.61 C203.11,524.49 203.98,525.92 205.11,527.37 C206.24,528.83 207.75,530.91 208.88,532.34 C210,533.77 210.88,535.52 211.89,535.95 C212.89,536.38 213.89,535.4 214.9,534.9 C215.9,534.39 216.9,533.52 217.91,532.94 C218.91,532.36 219.91,532.49 220.92,531.43 C221.92,530.38 223.05,528.17 223.93,526.62 C224.8,525.06 225.43,523.23 226.18,522.1 C226.94,520.97 227.69,519.84 228.44,519.84 C229.19,519.84 229.95,520.85 230.7,522.1 C231.45,523.36 232.2,525.74 232.96,527.37 C233.71,529 234.46,530.71 235.21,531.89 C235.97,533.06 236.59,534.32 237.47,534.44 C238.35,534.57 239.48,533.44 240.48,532.64 C241.49,531.84 242.62,530.26 243.49,529.63 C244.37,529 244.87,528.57 245.75,528.88 C246.63,529.18 247.55,530.05 248.76,531.43 C249.97,532.81 251.67,536.75 253.01,537.15 C254.35,537.55 255.64,534.59 256.77,533.84 C257.9,533.09 258.65,532.54 259.78,532.64 C260.91,532.74 262.42,534.57 263.55,534.44 C264.67,534.32 265.55,533.57 266.56,531.89 C267.56,530.2 268.44,526.99 269.57,524.36 C270.7,521.73 272.08,518.34 273.33,516.08 C274.58,513.82 275.96,512.07 277.09,510.81 C278.22,509.56 279.1,508.43 280.1,508.56 C281.11,508.68 282.11,510.44 283.11,511.57 C284.12,512.7 285.12,514.88 286.12,515.33 C287.13,515.78 288.13,514.78 289.13,514.28 C290.14,513.77 291.14,512.14 292.14,512.32 C293.15,512.49 294.15,514.08 295.15,515.33 C296.16,516.58 297.16,519.22 298.16,519.84 C299.17,520.47 300.17,519.42 301.17,519.09 C302.18,518.77 303.18,517.51 304.18,517.89 C305.19,518.26 306.19,519.64 307.19,521.35 C308.2,523.06 309.2,525.74 310.2,528.12 C311.21,530.51 312.41,534.02 313.21,535.65 C314.02,537.28 314.27,538.03 315.02,537.91 C315.77,537.78 316.78,536.53 317.73,534.9 C318.68,533.27 319.74,530.13 320.74,528.12 C321.74,526.12 322.75,524.11 323.75,522.85 C324.75,521.6 326.26,520.97 326.76,520.6" fill="none" stroke="#0000ff" stroke-width="0.85" stroke-linejoin="round"/>
<path d="M32.3,562.74 C32.55,561.49 33.18,556.97 33.8,555.21 C34.43,553.46 35.18,552.91 36.06,552.2 C36.94,551.5 38.07,551.13 39.07,551 C40.08,550.88 41.08,551.25 42.08,551.45 C43.09,551.65 43.96,552.46 45.09,552.2 C46.22,551.95 47.73,550.45 48.85,549.95 C49.98,549.45 50.74,549.19 51.87,549.19 C52.99,549.19 54.37,549.82 55.63,549.95 C56.88,550.07 58.26,550.12 59.39,549.95 C60.52,549.77 61.4,549.27 62.4,548.89 C63.4,548.52 64.28,548.27 65.41,547.69 C66.54,547.11 68.05,546.31 69.17,545.43 C70.3,544.55 71.06,543.35 72.18,542.42 C73.31,541.49 74.69,540.49 75.95,539.86 C77.2,539.24 78.58,538.73 79.71,538.66 C80.84,538.58 81.72,538.91 82.72,539.41 C83.72,539.91 84.73,540.54 85.73,541.67 C86.73,542.8 87.74,544.55 88.74,546.18 C89.74,547.81 90.75,550 91.75,551.45 C92.75,552.91 93.84,554.54 94.76,554.91 C95.68,555.29 96.34,554.66 97.26,553.71 C98.18,552.76 99.26,551.2 100.27,549.19 C101.27,547.19 102.27,544.3 103.28,541.67 C104.28,539.03 105.16,535.65 106.29,533.39 C107.42,531.13 108.8,529.05 110.05,528.12 C111.31,527.19 112.69,527.19 113.81,527.82 C114.94,528.45 115.82,530.83 116.82,531.89 C117.83,532.94 118.83,534.64 119.83,534.14 C120.84,533.64 121.84,531.01 122.84,528.88 C123.85,526.74 124.85,523.11 125.85,521.35 C126.86,519.59 127.99,518.46 128.87,518.34 C129.74,518.21 130.37,518.97 131.12,520.6 C131.88,522.23 132.63,525.49 133.38,528.12 C134.13,530.76 134.76,534.39 135.64,536.4 C136.52,538.41 137.64,539.79 138.65,540.16 C139.65,540.54 140.53,539.54 141.66,538.66 C142.79,537.78 144.29,535.85 145.42,534.9 C146.55,533.94 147.43,532.94 148.43,532.94 C149.44,532.94 150.44,534.07 151.44,534.9 C152.45,535.72 153.45,537.28 154.45,537.91 C155.46,538.53 156.33,539.03 157.46,538.66 C158.59,538.28 159.97,536.95 161.23,535.65 C162.48,534.34 163.73,531.96 164.99,530.83 C166.24,529.7 167.62,528.83 168.75,528.88 C169.88,528.93 170.72,529.75 171.76,531.13 C172.8,532.51 173.84,535.52 175.01,537.15 C176.18,538.78 177.52,540.04 178.77,540.92 C180.03,541.79 181.28,542.35 182.54,542.42 C183.79,542.5 185.04,542.12 186.3,541.37 C187.55,540.62 188.81,539.11 190.06,537.91 C191.32,536.7 192.57,535.4 193.82,534.14 C195.08,532.89 196.33,531.26 197.59,530.38 C198.84,529.5 200.22,529 201.35,528.88 C202.48,528.75 203.36,528.88 204.36,529.63 C205.36,530.38 206.37,532.01 207.37,533.39 C208.37,534.77 209.38,536.78 210.38,537.91 C211.38,539.03 212.26,539.91 213.39,540.16 C214.52,540.41 216.02,539.79 217.15,539.41 C218.28,539.03 219.16,538.53 220.16,537.91 C221.17,537.28 222.17,536.4 223.17,535.65 C224.18,534.9 225.23,533.89 226.18,533.39 C227.14,532.89 228.02,532.51 228.89,532.64 C229.77,532.76 230.52,533.27 231.45,534.14 C232.38,535.02 233.46,536.95 234.46,537.91 C235.47,538.86 236.47,539.99 237.47,539.86 C238.48,539.74 239.48,538.36 240.48,537.15 C241.49,535.95 242.49,533.89 243.49,532.64 C244.5,531.38 245.5,530 246.5,529.63 C247.51,529.25 248.43,529.5 249.51,530.38 C250.6,531.26 251.8,533.52 253.01,534.9 C254.22,536.28 255.52,537.53 256.77,538.66 C258.03,539.79 259.41,541.04 260.54,541.67 C261.66,542.3 262.54,542.67 263.55,542.42 C264.55,542.17 265.55,541.42 266.56,540.16 C267.56,538.91 268.44,536.78 269.57,534.9 C270.7,533.01 272.08,530.63 273.33,528.88 C274.58,527.12 275.84,525.49 277.09,524.36 C278.35,523.23 279.73,522.18 280.85,522.1 C281.98,522.03 282.74,522.78 283.87,523.91 C284.99,525.04 286.37,527.42 287.63,528.88 C288.88,530.33 290.14,531.63 291.39,532.64 C292.64,533.64 294.02,534.34 295.15,534.9 C296.28,535.45 297.16,535.95 298.16,535.95 C299.17,535.95 300.17,535.25 301.17,534.9 C302.18,534.54 303.18,533.59 304.18,533.84 C305.19,534.09 306.19,535.22 307.19,536.4 C308.2,537.58 309.2,539.66 310.2,540.92 C311.21,542.17 312.34,543.42 313.21,543.93 C314.09,544.43 314.59,544.6 315.47,543.93 C316.35,543.25 317.48,541.24 318.48,539.86 C319.49,538.48 320.49,536.73 321.49,535.65 C322.5,534.57 323.63,533.89 324.5,533.39 C325.38,532.89 326.38,532.76 326.76,532.64 L326.76,549.95 C326.38,550.07 325.38,550.07 324.5,550.7 C323.63,551.33 322.5,552.46 321.49,553.71 C320.49,554.96 319.49,556.92 318.48,558.23 C317.48,559.53 316.35,560.91 315.47,561.54 C314.59,562.16 314.09,562.41 313.21,561.99 C312.34,561.56 311.21,560.23 310.2,558.98 C309.2,557.72 308.2,555.72 307.19,554.46 C306.19,553.21 305.19,551.83 304.18,551.45 C303.18,551.08 302.18,551.83 301.17,552.2 C300.17,552.58 299.17,553.58 298.16,553.71 C297.16,553.84 296.28,553.46 295.15,552.96 C294.02,552.46 292.64,551.7 291.39,550.7 C290.14,549.7 288.88,548.32 287.63,546.94 C286.37,545.56 284.99,543.55 283.87,542.42 C282.74,541.29 281.98,540.16 280.85,540.16 C279.73,540.16 278.35,541.17 277.09,542.42 C275.84,543.68 274.58,545.81 273.33,547.69 C272.08,549.57 270.7,551.83 269.57,553.71 C268.44,555.59 267.56,557.72 266.56,558.98 C265.55,560.23 264.55,560.98 263.55,561.24 C262.54,561.49 261.66,561.11 260.54,560.48 C259.41,559.86 258.03,558.6 256.77,557.47 C255.52,556.34 254.22,555.21 253.01,553.71 C251.8,552.2 250.6,549.57 249.51,548.44 C248.43,547.31 247.51,546.69 246.5,546.94 C245.5,547.19 244.5,548.57 243.49,549.95 C242.49,551.33 241.49,553.96 240.48,555.21 C239.48,556.47 238.48,557.35 237.47,557.47 C236.47,557.6 235.47,556.85 234.46,555.97 C233.46,555.09 232.38,553.21 231.45,552.2 C230.52,551.2 229.77,550.2 228.89,549.95 C228.02,549.7 227.14,550.2 226.18,550.7 C225.23,551.2 224.18,552.2 223.17,552.96 C222.17,553.71 221.17,554.64 220.16,555.21 C219.16,555.79 218.28,556.04 217.15,556.42 C216.02,556.8 214.52,557.55 213.39,557.47 C212.26,557.4 211.38,556.97 210.38,555.97 C209.38,554.96 208.37,552.83 207.37,551.45 C206.37,550.07 205.36,548.44 204.36,547.69 C203.36,546.94 202.48,546.69 201.35,546.94 C200.22,547.19 198.84,548.19 197.59,549.19 C196.33,550.2 195.08,551.7 193.82,552.96 C192.57,554.21 191.32,555.59 190.06,556.72 C188.81,557.85 187.55,559.1 186.3,559.73 C185.04,560.36 183.79,560.61 182.54,560.48 C181.28,560.36 180.03,559.86 178.77,558.98 C177.52,558.1 176.18,556.72 175.01,555.21 C173.84,553.71 172.8,551.2 171.76,549.95 C170.72,548.69 169.88,547.69 168.75,547.69 C167.62,547.69 166.24,548.69 164.99,549.95 C163.73,551.2 162.48,553.96 161.23,555.21 C159.97,556.47 158.59,557.22 157.46,557.47 C156.33,557.72 155.46,557.22 154.45,556.72 C153.45,556.22 152.45,555.27 151.44,554.46 C150.44,553.66 149.44,552.15 148.43,551.9 C147.43,551.65 146.55,552.15 145.42,552.96 C144.29,553.76 142.79,555.72 141.66,556.72 C140.53,557.72 139.65,559.23 138.65,558.98 C137.64,558.73 136.52,557.22 135.64,555.21 C134.76,553.21 134.13,549.57 133.38,546.94 C132.63,544.3 131.88,541.04 131.12,539.41 C130.37,537.78 129.74,536.9 128.87,537.15 C127.99,537.4 126.86,539.16 125.85,540.92 C124.85,542.67 123.85,545.93 122.84,547.69 C121.84,549.45 120.84,550.95 119.83,551.45 C118.83,551.95 117.83,551.58 116.82,550.7 C115.82,549.82 114.94,546.94 113.81,546.18 C112.69,545.43 111.31,545.31 110.05,546.18 C108.8,547.06 107.42,549.19 106.29,551.45 C105.16,553.71 104.28,557.1 103.28,559.73 C102.27,562.36 101.27,565.12 100.27,567.26 C99.26,569.39 98.18,571.77 97.26,572.52 C96.34,573.28 95.68,572.27 94.76,571.77 C93.84,571.27 92.75,570.52 91.75,569.51 C90.75,568.51 89.74,567.13 88.74,565.75 C87.74,564.37 86.73,562.36 85.73,561.24 C84.73,560.11 83.72,559.48 82.72,558.98 C81.72,558.48 80.84,558.1 79.71,558.23 C78.58,558.35 77.2,558.98 75.95,559.73 C74.69,560.48 73.31,561.86 72.18,562.74 C71.06,563.62 70.3,564.37 69.17,565 C68.05,565.63 66.54,566.13 65.41,566.5 C64.28,566.88 63.4,567.01 62.4,567.26 C61.4,567.51 60.52,568.01 59.39,568.01 C58.26,568.01 56.88,567.38 55.63,567.26 C54.37,567.13 52.99,567.01 51.87,567.26 C50.74,567.51 49.98,568.38 48.85,568.76 C47.73,569.14 46.22,569.64 45.09,569.51 C43.96,569.39 43.09,568.26 42.08,568.01 C41.08,567.76 40.08,567.63 39.07,568.01 C38.07,568.38 36.94,569.26 36.06,570.27 C35.18,571.27 34.43,572.77 33.8,574.03 C33.18,575.28 32.55,577.16 32.3,577.79 Z" fill="rgba(255,0,0,0.30)"/>
<path d="M32.3,570.27 C32.55,569.51 33.18,567.26 33.8,565.75 C34.43,564.25 35.18,562.29 36.06,561.24 C36.94,560.18 38.07,559.68 39.07,559.43 C40.08,559.18 41.08,559.48 42.08,559.73 C43.09,559.98 43.96,560.98 45.09,560.93 C46.22,560.88 47.73,559.88 48.85,559.43 C49.98,558.98 50.74,558.43 51.87,558.23 C52.99,558.02 54.37,558.1 55.63,558.23 C56.88,558.35 58.26,558.98 59.39,558.98 C60.52,558.98 61.4,558.48 62.4,558.23 C63.4,557.97 64.28,557.85 65.41,557.47 C66.54,557.1 68.05,556.59 69.17,555.97 C70.3,555.34 71.06,554.71 72.18,553.71 C73.31,552.71 74.69,550.95 75.95,549.95 C77.2,548.94 78.58,547.94 79.71,547.69 C80.84,547.44 81.72,547.94 82.72,548.44 C83.72,548.94 84.73,549.57 85.73,550.7 C86.73,551.83 87.74,553.58 88.74,555.21 C89.74,556.85 90.75,559.1 91.75,560.48 C92.75,561.86 93.84,562.99 94.76,563.49 C95.68,563.99 96.34,564.37 97.26,563.49 C98.18,562.62 99.26,560.36 100.27,558.23 C101.27,556.09 102.27,553.33 103.28,550.7 C104.28,548.07 105.16,544.68 106.29,542.42 C107.42,540.16 108.8,538.08 110.05,537.15 C111.31,536.23 112.69,536.23 113.81,536.85 C114.94,537.48 115.82,539.81 116.82,540.92 C117.83,542.02 118.83,543.85 119.83,543.48 C120.84,543.1 121.84,540.72 122.84,538.66 C123.85,536.6 124.85,533.01 125.85,531.13 C126.86,529.25 127.99,527.62 128.87,527.37 C129.74,527.12 130.37,528 131.12,529.63 C131.88,531.26 132.63,534.52 133.38,537.15 C134.13,539.79 134.76,543.3 135.64,545.43 C136.52,547.56 137.64,549.57 138.65,549.95 C139.65,550.32 140.53,548.69 141.66,547.69 C142.79,546.69 144.29,544.8 145.42,543.93 C146.55,543.05 147.43,542.3 148.43,542.42 C149.44,542.55 150.44,543.8 151.44,544.68 C152.45,545.56 153.45,547.06 154.45,547.69 C155.46,548.32 156.33,548.82 157.46,548.44 C158.59,548.07 159.97,546.81 161.23,545.43 C162.48,544.05 163.73,541.42 164.99,540.16 C166.24,538.91 167.62,537.91 168.75,537.91 C169.88,537.91 170.72,538.78 171.76,540.16 C172.8,541.54 173.84,544.55 175.01,546.18 C176.18,547.81 177.52,548.99 178.77,549.95 C180.03,550.9 181.28,551.78 182.54,551.9 C183.79,552.03 185.04,551.4 186.3,550.7 C187.55,550 188.81,548.94 190.06,547.69 C191.32,546.44 192.57,544.55 193.82,543.17 C195.08,541.79 196.33,540.41 197.59,539.41 C198.84,538.41 200.22,537.4 201.35,537.15 C202.48,536.9 203.36,537.15 204.36,537.91 C205.36,538.66 206.37,540.16 207.37,541.67 C208.37,543.17 209.38,545.68 210.38,546.94 C211.38,548.19 212.26,549.02 213.39,549.19 C214.52,549.37 216.02,548.37 217.15,547.99 C218.28,547.61 219.16,547.49 220.16,546.94 C221.17,546.38 222.17,545.56 223.17,544.68 C224.18,543.8 225.23,542.3 226.18,541.67 C227.14,541.04 228.02,540.67 228.89,540.92 C229.77,541.17 230.52,542.17 231.45,543.17 C232.38,544.18 233.46,545.98 234.46,546.94 C235.47,547.89 236.47,549.02 237.47,548.89 C238.48,548.77 239.48,547.51 240.48,546.18 C241.49,544.85 242.49,542.3 243.49,540.92 C244.5,539.54 245.5,538.16 246.5,537.91 C247.51,537.66 248.43,538.41 249.51,539.41 C250.6,540.41 251.8,542.55 253.01,543.93 C254.22,545.31 255.52,546.44 256.77,547.69 C258.03,548.94 259.41,550.7 260.54,551.45 C261.66,552.2 262.54,552.46 263.55,552.2 C264.55,551.95 265.55,551.2 266.56,549.95 C267.56,548.69 268.44,546.56 269.57,544.68 C270.7,542.8 272.08,540.54 273.33,538.66 C274.58,536.78 275.84,534.7 277.09,533.39 C278.35,532.09 279.73,530.83 280.85,530.83 C281.98,530.83 282.74,532.21 283.87,533.39 C284.99,534.57 286.37,536.53 287.63,537.91 C288.88,539.29 290.14,540.67 291.39,541.67 C292.64,542.67 294.02,543.42 295.15,543.93 C296.28,544.43 297.16,544.75 298.16,544.68 C299.17,544.6 300.17,543.85 301.17,543.48 C302.18,543.1 303.18,542.1 304.18,542.42 C305.19,542.75 306.19,544.18 307.19,545.43 C308.2,546.69 309.2,548.62 310.2,549.95 C311.21,551.28 312.34,552.91 313.21,553.41 C314.09,553.91 314.59,553.71 315.47,552.96 C316.35,552.2 317.48,550.32 318.48,548.89 C319.49,547.46 320.49,545.58 321.49,544.38 C322.5,543.17 323.63,542.25 324.5,541.67 C325.38,541.09 326.38,541.04 326.76,540.92" fill="none" stroke="#ff0000" stroke-width="0.85" stroke-linejoin="round"/>
<line x1="32.3" y1="536.4" x2="326.8" y2="520.6" stroke="#0000ff" stroke-width="0.75" stroke-dasharray="2 1.3"/>
<line x1="32.3" y1="554.5" x2="326.8" y2="540.2" stroke="#ff0000" stroke-width="0.75" stroke-dasharray="2 1.3"/>
</g>
<line x1="327.9" y1="492.7" x2="327.9" y2="581.7" stroke="#000" stroke-width="1.8"/>
<path d="M341.2,492.7 L18.3,492.7 L18.3,581.7 L341.2,581.7" fill="none" stroke="#8a8a8a" stroke-width="1"/>
<line x1="341.2" y1="492.2" x2="341.2" y2="582.2" stroke="#8a8a8a" stroke-width="1"/>
<line x1="20.3" y1="581.7" x2="20.3" y2="583.3" stroke="#555" stroke-width="0.8"/>
<text x="20.3" y="588.9" font-size="6.2" text-anchor="middle" fill="#222">0</text>
<line x1="69.6" y1="581.7" x2="69.6" y2="583.3" stroke="#555" stroke-width="0.8"/>
<text x="69.6" y="588.9" font-size="6.2" text-anchor="middle" fill="#222">2</text>
<line x1="118.9" y1="581.7" x2="118.9" y2="583.3" stroke="#555" stroke-width="0.8"/>
<text x="118.9" y="588.9" font-size="6.2" text-anchor="middle" fill="#222">4</text>
<line x1="168.2" y1="581.7" x2="168.2" y2="583.3" stroke="#555" stroke-width="0.8"/>
<text x="168.2" y="588.9" font-size="6.2" text-anchor="middle" fill="#222">6</text>
<line x1="217.5" y1="581.7" x2="217.5" y2="583.3" stroke="#555" stroke-width="0.8"/>
<text x="217.5" y="588.9" font-size="6.2" text-anchor="middle" fill="#222">8</text>
<line x1="266.8" y1="581.7" x2="266.8" y2="583.3" stroke="#555" stroke-width="0.8"/>
<text x="266.8" y="588.9" font-size="6.2" text-anchor="middle" fill="#222">10</text>
<line x1="316.1" y1="581.7" x2="316.1" y2="583.3" stroke="#555" stroke-width="0.8"/>
<text x="316.1" y="588.9" font-size="6.2" text-anchor="middle" fill="#222">12</text>
<line x1="16.7" y1="579.3" x2="18.3" y2="579.3" stroke="#555" stroke-width="0.8"/>
<text x="15.3" y="581.97" font-size="6.2" text-anchor="end" fill="#222">1.0</text>
<line x1="16.7" y1="563.7" x2="18.3" y2="563.7" stroke="#555" stroke-width="0.8"/>
<text x="15.3" y="566.37" font-size="6.2" text-anchor="end" fill="#222">1.2</text>
<line x1="16.7" y1="548.1" x2="18.3" y2="548.1" stroke="#555" stroke-width="0.8"/>
<text x="15.3" y="550.77" font-size="6.2" text-anchor="end" fill="#222">1.4</text>
<line x1="16.7" y1="532.5" x2="18.3" y2="532.5" stroke="#555" stroke-width="0.8"/>
<text x="15.3" y="535.17" font-size="6.2" text-anchor="end" fill="#222">1.6</text>
<line x1="16.7" y1="516.9" x2="18.3" y2="516.9" stroke="#555" stroke-width="0.8"/>
<text x="15.3" y="519.57" font-size="6.2" text-anchor="end" fill="#222">1.8</text>
<line x1="16.7" y1="501.3" x2="18.3" y2="501.3" stroke="#555" stroke-width="0.8"/>
<text x="15.3" y="503.97" font-size="6.2" text-anchor="end" fill="#222">2.0</text>
<rect x="20.3" y="494.8" width="96" height="19.7" rx="1.5" fill="#fff" stroke="#d9d9d9" stroke-width="0.8"/>
<line x1="23.3" y1="499.7" x2="37.9" y2="499.7" stroke="#0000ff" stroke-width="1.3"/>
<line x1="23.3" y1="508.6" x2="37.9" y2="508.6" stroke="#ff0000" stroke-width="1.3"/>
<text x="43" y="502.26" font-size="7.1" text-anchor="start" fill="#111">Epileptic Regions</text>
<text x="43" y="511.16" font-size="7.1" text-anchor="start" fill="#111">Non-Epileptic Regions</text>
<text x="179.7" y="489.8" font-size="7.05" text-anchor="middle" fill="#222">THETA band</text>
<text x="18.7" y="491.3" font-size="5.6" text-anchor="start" fill="#222">1e−21</text>
<text x="179.8" y="596" font-size="5.8" text-anchor="middle" fill="#222">Time (minutes)</text>
<text x="3.9" y="538" font-size="6.05" text-anchor="middle" fill="#222" transform="rotate(-90 3.9 538)">Power</text>
<g clip-path="url(#cBBR)">
<path d="M375.05,496.82 C375.68,497.02 377.56,497.57 378.81,498.02 C380.07,498.47 381.32,499.02 382.58,499.53 C383.83,500.03 385.09,500.65 386.34,501.03 C387.59,501.41 388.85,501.66 390.1,501.78 C391.36,501.91 392.61,501.61 393.87,501.78 C395.12,501.96 396.5,502.08 397.63,502.84 C398.76,503.59 399.63,504.84 400.64,506.3 C401.64,507.75 402.64,509.56 403.65,511.57 C404.65,513.57 405.66,516.21 406.66,518.34 C407.66,520.47 408.67,522.6 409.67,524.36 C410.67,526.12 411.55,527.62 412.68,528.88 C413.81,530.13 415.19,531.01 416.44,531.89 C417.7,532.76 418.83,533.47 420.2,534.14 C421.58,534.82 423.21,535.32 424.72,535.95 C426.23,536.58 427.86,537.58 429.24,537.91 C430.62,538.23 431.87,538.28 433,537.91 C434.13,537.53 435.13,536.65 436.01,535.65 C436.89,534.64 437.6,533.64 438.27,531.89 C438.93,530.13 439.22,527.62 440.01,525.11 C440.8,522.6 442.02,519.22 443.02,516.83 C444.02,514.45 445.03,512.44 446.03,510.81 C447.03,509.18 448.04,507.8 449.04,507.05 C450.04,506.3 451.05,506.17 452.05,506.3 C453.05,506.42 453.93,506.93 455.06,507.8 C456.19,508.68 457.57,510.19 458.82,511.57 C460.08,512.95 461.33,514.58 462.59,516.08 C463.84,517.59 465.1,519.22 466.35,520.6 C467.6,521.98 468.73,523.16 470.11,524.36 C471.49,525.56 473.12,526.82 474.63,527.82 C476.13,528.83 477.76,529.88 479.14,530.38 C480.52,530.88 481.65,531.08 482.91,530.83 C484.16,530.58 485.41,529.95 486.67,528.88 C487.92,527.8 489.18,525.74 490.43,524.36 C491.69,522.98 492.94,521.6 494.19,520.6 C495.45,519.59 496.7,518.89 497.96,518.34 C499.21,517.79 500.34,517.54 501.72,517.29 C503.1,517.04 504.73,516.91 506.24,516.83 C507.74,516.76 508.83,516.58 510.75,516.83 C512.67,517.09 515.97,517.76 517.76,518.34 C519.56,518.92 520.27,519.67 521.53,520.3 C522.78,520.92 524.03,521.5 525.29,522.1 C526.54,522.7 527.8,523.28 529.05,523.91 C530.31,524.54 531.56,525.29 532.81,525.87 C534.07,526.44 535.32,526.94 536.58,527.37 C537.83,527.8 539.09,528.17 540.34,528.42 C541.59,528.67 542.72,528.8 544.1,528.88 C545.48,528.95 547.11,528.8 548.62,528.88 C550.12,528.95 551.75,529.15 553.13,529.33 C554.51,529.5 555.64,529.75 556.9,529.93 C558.15,530.1 559.4,530.43 560.66,530.38 C561.91,530.33 563.29,530.2 564.42,529.63 C565.55,529.05 566.43,528.05 567.43,526.92 C568.44,525.79 569.44,524.28 570.44,522.85 C571.45,521.43 572.45,519.59 573.45,518.34 C574.46,517.09 575.33,516.01 576.46,515.33 C577.59,514.65 579.1,514.4 580.23,514.28 C581.35,514.15 582.23,514.15 583.24,514.58 C584.24,515 585.24,515.83 586.25,516.83 C587.25,517.84 588.25,519.34 589.26,520.6 C590.26,521.85 591.35,523.56 592.27,524.36 C593.18,525.16 593.72,524.59 594.76,525.41 C595.81,526.24 597.27,528.17 598.53,529.33 C599.78,530.48 601.03,531.48 602.29,532.34 C603.54,533.19 604.8,533.84 606.05,534.44 C607.31,535.05 608.56,535.75 609.81,535.95 C611.07,536.15 612.45,536.2 613.58,535.65 C614.71,535.1 615.58,534.02 616.59,532.64 C617.59,531.26 618.59,529.13 619.6,527.37 C620.6,525.61 621.48,523.73 622.61,522.1 C623.74,520.47 625.12,518.64 626.37,517.59 C627.62,516.53 628.88,516.08 630.13,515.78 C631.39,515.48 632.64,515.68 633.9,515.78 C635.15,515.88 636.28,516.13 637.66,516.38 C639.04,516.63 640.67,517.04 642.17,517.29 C643.68,517.54 645.18,517.59 646.69,517.89 C648.19,518.19 649.7,518.52 651.2,519.09 C652.71,519.67 654.21,520.55 655.72,521.35 C657.23,522.15 658.73,523.03 660.24,523.91 C661.74,524.79 663.2,525.66 664.75,526.62 C666.31,527.57 668.76,529.13 669.57,529.63 L669.57,549.95 C668.76,549.52 666.31,548.27 664.75,547.39 C663.2,546.51 661.74,545.51 660.24,544.68 C658.73,543.85 657.23,543.22 655.72,542.42 C654.21,541.62 652.71,540.62 651.2,539.86 C649.7,539.11 648.19,538.36 646.69,537.91 C645.18,537.45 643.68,537.4 642.17,537.15 C640.67,536.9 639.04,536.6 637.66,536.4 C636.28,536.2 635.15,535.82 633.9,535.95 C632.64,536.07 631.39,536.4 630.13,537.15 C628.88,537.91 627.62,539.09 626.37,540.46 C625.12,541.84 623.74,543.73 622.61,545.43 C621.48,547.14 620.6,549.19 619.6,550.7 C618.59,552.2 617.59,553.41 616.59,554.46 C615.58,555.52 614.71,556.64 613.58,557.02 C612.45,557.4 611.07,557.07 609.81,556.72 C608.56,556.37 607.31,555.67 606.05,554.91 C604.8,554.16 603.54,553.11 602.29,552.2 C601.03,551.3 599.78,550.55 598.53,549.5 C597.27,548.44 595.81,546.89 594.76,545.88 C593.72,544.88 593.18,544.43 592.27,543.48 C591.35,542.52 590.26,541.34 589.26,540.16 C588.25,538.98 587.25,537.4 586.25,536.4 C585.24,535.4 584.24,534.57 583.24,534.14 C582.23,533.72 581.35,533.72 580.23,533.84 C579.1,533.97 577.59,534.22 576.46,534.9 C575.33,535.57 574.46,536.65 573.45,537.91 C572.45,539.16 571.45,540.92 570.44,542.42 C569.44,543.93 568.44,545.68 567.43,546.94 C566.43,548.19 565.55,549.24 564.42,549.95 C563.29,550.65 561.91,551.08 560.66,551.15 C559.4,551.23 558.15,550.67 556.9,550.4 C555.64,550.12 554.51,549.7 553.13,549.5 C551.75,549.29 550.12,549.24 548.62,549.19 C547.11,549.14 545.48,549.24 544.1,549.19 C542.72,549.14 541.59,549.09 540.34,548.89 C539.09,548.69 537.83,548.39 536.58,547.99 C535.32,547.59 534.07,547.04 532.81,546.49 C531.56,545.93 530.31,545.36 529.05,544.68 C527.8,544 526.54,543.12 525.29,542.42 C524.03,541.72 522.78,541.09 521.53,540.46 C520.27,539.84 519.56,539.21 517.76,538.66 C515.97,538.11 512.67,537.45 510.75,537.15 C508.83,536.85 507.74,536.85 506.24,536.85 C504.73,536.85 503.1,536.9 501.72,537.15 C500.34,537.4 499.21,537.73 497.96,538.36 C496.7,538.98 495.45,539.74 494.19,540.92 C492.94,542.1 491.69,543.93 490.43,545.43 C489.18,546.94 487.92,548.94 486.67,549.95 C485.41,550.95 484.16,551.38 482.91,551.45 C481.65,551.53 480.52,551.15 479.14,550.4 C477.76,549.65 476.13,548.14 474.63,546.94 C473.12,545.73 471.49,544.43 470.11,543.17 C468.73,541.92 467.6,540.79 466.35,539.41 C465.1,538.03 463.84,536.33 462.59,534.9 C461.33,533.47 460.08,532.09 458.82,530.83 C457.57,529.58 456.19,528.12 455.06,527.37 C453.93,526.62 453.05,526.19 452.05,526.32 C451.05,526.44 450.04,527.19 449.04,528.12 C448.04,529.05 447.03,530.26 446.03,531.89 C445.03,533.52 444.02,535.52 443.02,537.91 C442.02,540.29 440.8,543.93 440.01,546.18 C439.22,548.44 438.93,549.82 438.27,551.45 C437.6,553.08 436.89,554.84 436.01,555.97 C435.13,557.1 434.13,557.85 433,558.23 C431.87,558.6 430.62,558.48 429.24,558.23 C427.86,557.97 426.23,557.35 424.72,556.72 C423.21,556.09 421.58,555.34 420.2,554.46 C418.83,553.58 417.7,552.58 416.44,551.45 C415.19,550.32 413.81,549.07 412.68,547.69 C411.55,546.31 410.67,544.93 409.67,543.17 C408.67,541.42 407.66,539.29 406.66,537.15 C405.66,535.02 404.65,532.39 403.65,530.38 C402.64,528.37 401.64,526.49 400.64,525.11 C399.63,523.73 398.76,522.73 397.63,522.1 C396.5,521.48 395.12,521.48 393.87,521.35 C392.61,521.22 391.36,521.48 390.1,521.35 C388.85,521.22 387.59,520.97 386.34,520.6 C385.09,520.22 383.83,519.54 382.58,519.09 C381.32,518.64 380.07,518.14 378.81,517.89 C377.56,517.64 375.68,517.64 375.05,517.59 Z" fill="rgba(0,0,255,0.31)"/>
<path d="M375.05,507.05 C375.68,507.18 377.56,507.43 378.81,507.8 C380.07,508.18 381.32,508.81 382.58,509.31 C383.83,509.81 385.09,510.49 386.34,510.81 C387.59,511.14 388.85,511.19 390.1,511.27 C391.36,511.34 392.74,511.22 393.87,511.27 C394.99,511.32 395.87,511.01 396.88,511.57 C397.88,512.12 398.88,513.2 399.89,514.58 C400.89,515.96 401.89,517.96 402.9,519.84 C403.9,521.73 404.9,523.86 405.91,525.87 C406.91,527.87 407.91,530 408.92,531.89 C409.92,533.77 410.8,535.52 411.93,537.15 C413.06,538.78 414.31,540.41 415.69,541.67 C417.07,542.92 418.7,543.8 420.2,544.68 C421.71,545.56 423.21,546.31 424.72,546.94 C426.23,547.56 427.86,548.27 429.24,548.44 C430.62,548.62 431.87,548.49 433,547.99 C434.13,547.49 435.13,546.61 436.01,545.43 C436.89,544.25 437.6,542.55 438.27,540.92 C438.93,539.29 439.22,537.91 440.01,535.65 C440.8,533.39 442.02,529.75 443.02,527.37 C444.02,524.99 445.03,522.98 446.03,521.35 C447.03,519.72 448.04,518.46 449.04,517.59 C450.04,516.71 451.05,516.13 452.05,516.08 C453.05,516.03 453.93,516.53 455.06,517.29 C456.19,518.04 457.57,519.29 458.82,520.6 C460.08,521.9 461.33,523.61 462.59,525.11 C463.84,526.62 465.1,528.25 466.35,529.63 C467.6,531.01 468.73,532.14 470.11,533.39 C471.49,534.64 473.12,535.97 474.63,537.15 C476.13,538.33 477.76,539.76 479.14,540.46 C480.52,541.17 481.65,541.54 482.91,541.37 C484.16,541.19 485.41,540.49 486.67,539.41 C487.92,538.33 489.18,536.33 490.43,534.9 C491.69,533.47 492.94,531.96 494.19,530.83 C495.45,529.7 496.7,528.78 497.96,528.12 C499.21,527.47 500.34,527.17 501.72,526.92 C503.1,526.67 504.73,526.62 506.24,526.62 C507.74,526.62 508.83,526.62 510.75,526.92 C512.67,527.22 515.97,527.85 517.76,528.42 C519.56,529 520.27,529.73 521.53,530.38 C522.78,531.03 524.03,531.71 525.29,532.34 C526.54,532.96 527.8,533.54 529.05,534.14 C530.31,534.75 531.56,535.4 532.81,535.95 C534.07,536.5 535.32,537 536.58,537.45 C537.83,537.91 539.09,538.41 540.34,538.66 C541.59,538.91 542.72,538.91 544.1,538.96 C545.48,539.01 547.11,538.88 548.62,538.96 C550.12,539.03 551.75,539.16 553.13,539.41 C554.51,539.66 555.64,540.14 556.9,540.46 C558.15,540.79 559.4,541.42 560.66,541.37 C561.91,541.32 563.29,540.87 564.42,540.16 C565.55,539.46 566.43,538.41 567.43,537.15 C568.44,535.9 569.44,534.14 570.44,532.64 C571.45,531.13 572.45,529.43 573.45,528.12 C574.46,526.82 575.33,525.51 576.46,524.81 C577.59,524.11 579.1,523.98 580.23,523.91 C581.35,523.83 582.23,523.91 583.24,524.36 C584.24,524.81 585.24,525.61 586.25,526.62 C587.25,527.62 588.25,529.13 589.26,530.38 C590.26,531.63 591.35,533.27 592.27,534.14 C593.18,535.02 593.72,534.77 594.76,535.65 C595.81,536.53 597.27,538.28 598.53,539.41 C599.78,540.54 601.03,541.49 602.29,542.42 C603.54,543.35 604.8,544.3 606.05,544.98 C607.31,545.66 608.56,546.23 609.81,546.49 C611.07,546.74 612.45,546.91 613.58,546.49 C614.71,546.06 615.58,545.11 616.59,543.93 C617.59,542.75 618.59,541.04 619.6,539.41 C620.6,537.78 621.48,535.9 622.61,534.14 C623.74,532.39 625.12,530.18 626.37,528.88 C627.62,527.57 628.88,526.82 630.13,526.32 C631.39,525.81 632.64,525.87 633.9,525.87 C635.15,525.87 636.28,526.14 637.66,526.32 C639.04,526.49 640.67,526.74 642.17,526.92 C643.68,527.09 645.18,527.04 646.69,527.37 C648.19,527.7 649.7,528.2 651.2,528.88 C652.71,529.55 654.21,530.56 655.72,531.43 C657.23,532.31 658.73,533.24 660.24,534.14 C661.74,535.05 663.2,535.9 664.75,536.85 C666.31,537.81 668.76,539.36 669.57,539.86" fill="none" stroke="#0000ff" stroke-width="0.85" stroke-linejoin="round"/>
<path d="M375.05,543.93 C375.55,543.55 376.93,542.42 378.06,541.67 C379.19,540.92 380.57,539.96 381.82,539.41 C383.08,538.86 384.33,538.53 385.59,538.36 C386.84,538.18 388.1,538.18 389.35,538.36 C390.6,538.53 391.86,538.91 393.11,539.41 C394.37,539.91 395.75,540.54 396.88,541.37 C398,542.2 398.88,543.27 399.89,544.38 C400.89,545.48 401.89,546.89 402.9,547.99 C403.9,549.09 404.9,550.05 405.91,551 C406.91,551.95 407.91,552.88 408.92,553.71 C409.92,554.54 410.8,555.21 411.93,555.97 C413.06,556.72 414.44,557.65 415.69,558.23 C416.94,558.8 418.07,559.18 419.45,559.43 C420.83,559.68 422.46,559.73 423.97,559.73 C425.47,559.73 426.98,559.73 428.48,559.43 C429.99,559.13 431.74,558.63 433,557.92 C434.25,557.22 435.13,556.17 436.01,555.21 C436.89,554.26 437.6,553.96 438.27,552.2 C438.93,550.45 439.22,547.06 440.01,544.68 C440.8,542.3 442.02,539.79 443.02,537.91 C444.02,536.02 445.03,534.57 446.03,533.39 C447.03,532.21 448.04,531.41 449.04,530.83 C450.04,530.26 451.05,529.93 452.05,529.93 C453.05,529.93 453.93,530.13 455.06,530.83 C456.19,531.53 457.57,532.71 458.82,534.14 C460.08,535.57 461.33,537.53 462.59,539.41 C463.84,541.29 465.1,543.68 466.35,545.43 C467.6,547.19 468.73,548.62 470.11,549.95 C471.49,551.28 473.12,552.53 474.63,553.41 C476.13,554.29 477.76,554.91 479.14,555.21 C480.52,555.52 481.65,555.47 482.91,555.21 C484.16,554.96 485.41,554.41 486.67,553.71 C487.92,553.01 489.18,551.75 490.43,551 C491.69,550.25 493.07,549.55 494.19,549.19 C495.32,548.84 496.08,548.77 497.2,548.89 C498.33,549.02 499.59,549.52 500.97,549.95 C502.35,550.37 503.85,551.08 505.48,551.45 C507.11,551.83 508.7,551.95 510.75,552.2 C512.8,552.46 515.97,552.58 517.76,552.96 C519.56,553.33 520.27,553.89 521.53,554.46 C522.78,555.04 524.03,555.84 525.29,556.42 C526.54,557 527.8,557.62 529.05,557.92 C530.31,558.23 531.56,558.38 532.81,558.23 C534.07,558.07 535.32,557.57 536.58,557.02 C537.83,556.47 539.09,555.59 540.34,554.91 C541.59,554.24 542.85,553.41 544.1,552.96 C545.36,552.51 546.61,552.28 547.87,552.2 C549.12,552.13 550.37,552.2 551.63,552.51 C552.88,552.81 554.14,553.51 555.39,554.01 C556.64,554.51 557.9,555.19 559.15,555.52 C560.41,555.84 561.66,556.07 562.92,555.97 C564.17,555.87 565.42,555.42 566.68,554.91 C567.93,554.41 569.19,553.46 570.44,552.96 C571.7,552.46 572.95,552.08 574.2,551.9 C575.46,551.73 576.71,551.73 577.97,551.9 C579.22,552.08 580.48,552.41 581.73,552.96 C582.98,553.51 584.24,554.46 585.49,555.21 C586.75,555.97 587.71,556.97 589.26,557.47 C590.8,557.97 593.22,557.72 594.76,558.23 C596.31,558.73 597.27,559.93 598.53,560.48 C599.78,561.03 601.03,561.21 602.29,561.54 C603.54,561.86 604.8,562.36 606.05,562.44 C607.31,562.51 608.56,562.19 609.81,561.99 C611.07,561.79 612.32,561.61 613.58,561.24 C614.83,560.86 616.09,560.18 617.34,559.73 C618.59,559.28 619.85,558.9 621.1,558.53 C622.36,558.15 623.61,557.77 624.87,557.47 C626.12,557.17 627.25,556.9 628.63,556.72 C630.01,556.54 631.64,556.47 633.14,556.42 C634.65,556.37 636.15,556.42 637.66,556.42 C639.16,556.42 640.67,556.42 642.17,556.42 C643.68,556.42 645.18,556.42 646.69,556.42 C648.19,556.42 649.7,556.42 651.2,556.42 C652.71,556.42 654.21,556.42 655.72,556.42 C657.23,556.42 658.73,556.37 660.24,556.42 C661.74,556.47 663.2,556.62 664.75,556.72 C666.31,556.82 668.76,556.97 669.57,557.02 L669.57,572.07 C668.76,571.97 666.31,571.65 664.75,571.47 C663.2,571.29 661.74,571.09 660.24,571.02 C658.73,570.94 657.23,571.02 655.72,571.02 C654.21,571.02 652.71,571.02 651.2,571.02 C649.7,571.02 648.19,571.02 646.69,571.02 C645.18,571.02 643.68,571.02 642.17,571.02 C640.67,571.02 639.16,571.02 637.66,571.02 C636.15,571.02 634.65,570.94 633.14,571.02 C631.64,571.09 630.01,571.22 628.63,571.47 C627.25,571.72 626.12,572.1 624.87,572.52 C623.61,572.95 622.36,573.53 621.1,574.03 C619.85,574.53 618.59,575.11 617.34,575.53 C616.09,575.96 614.83,576.26 613.58,576.59 C612.32,576.91 611.07,577.29 609.81,577.49 C608.56,577.69 607.31,577.87 606.05,577.79 C604.8,577.72 603.54,577.42 602.29,577.04 C601.03,576.66 599.78,576.16 598.53,575.53 C597.27,574.91 596.31,573.78 594.76,573.28 C593.22,572.77 590.8,573.03 589.26,572.52 C587.71,572.02 586.75,571.02 585.49,570.27 C584.24,569.51 582.98,568.56 581.73,568.01 C580.48,567.46 579.22,567.08 577.97,566.95 C576.71,566.83 575.46,567.01 574.2,567.26 C572.95,567.51 571.7,567.96 570.44,568.46 C569.19,568.96 567.93,569.76 566.68,570.27 C565.42,570.77 564.17,571.34 562.92,571.47 C561.66,571.6 560.41,571.34 559.15,571.02 C557.9,570.69 556.64,570.02 555.39,569.51 C554.14,569.01 552.88,568.33 551.63,568.01 C550.37,567.68 549.12,567.43 547.87,567.56 C546.61,567.68 545.36,568.26 544.1,568.76 C542.85,569.26 541.59,569.94 540.34,570.57 C539.09,571.19 537.83,572.02 536.58,572.52 C535.32,573.03 534.07,573.45 532.81,573.58 C531.56,573.7 530.31,573.58 529.05,573.28 C527.8,572.98 526.54,572.32 525.29,571.77 C524.03,571.22 522.78,570.52 521.53,569.97 C520.27,569.41 519.56,568.79 517.76,568.46 C515.97,568.13 512.8,568.21 510.75,568.01 C508.7,567.81 507.11,567.58 505.48,567.26 C503.85,566.93 502.35,566.35 500.97,566.05 C499.59,565.75 498.33,565.45 497.2,565.45 C496.08,565.45 495.32,565.63 494.19,566.05 C493.07,566.48 491.69,567.31 490.43,568.01 C489.18,568.71 487.92,569.64 486.67,570.27 C485.41,570.89 484.16,571.57 482.91,571.77 C481.65,571.97 480.52,571.85 479.14,571.47 C477.76,571.09 476.13,570.34 474.63,569.51 C473.12,568.69 471.49,567.76 470.11,566.5 C468.73,565.25 467.6,563.62 466.35,561.99 C465.1,560.36 463.84,558.55 462.59,556.72 C461.33,554.89 460.08,552.46 458.82,551 C457.57,549.55 456.19,548.59 455.06,547.99 C453.93,547.39 453.05,547.19 452.05,547.39 C451.05,547.59 450.04,548.27 449.04,549.19 C448.04,550.12 447.03,551.45 446.03,552.96 C445.03,554.46 444.02,556.22 443.02,558.23 C442.02,560.23 440.8,563.54 440.01,565 C439.22,566.45 438.93,566.13 438.27,566.95 C437.6,567.78 436.89,569.04 436.01,569.97 C435.13,570.89 434.25,571.85 433,572.52 C431.74,573.2 429.99,573.65 428.48,574.03 C426.98,574.41 425.47,574.71 423.97,574.78 C422.46,574.86 420.83,574.73 419.45,574.48 C418.07,574.23 416.94,573.78 415.69,573.28 C414.44,572.77 413.06,572.22 411.93,571.47 C410.8,570.72 409.92,569.71 408.92,568.76 C407.91,567.81 406.91,566.75 405.91,565.75 C404.9,564.75 403.9,563.87 402.9,562.74 C401.89,561.61 400.89,560.11 399.89,558.98 C398.88,557.85 398,556.8 396.88,555.97 C395.75,555.14 394.37,554.51 393.11,554.01 C391.86,553.51 390.6,553.13 389.35,552.96 C388.1,552.78 386.84,552.78 385.59,552.96 C384.33,553.13 383.08,553.43 381.82,554.01 C380.57,554.59 379.19,555.67 378.06,556.42 C376.93,557.17 375.55,558.17 375.05,558.53 Z" fill="rgba(255,0,0,0.30)"/>
<path d="M375.05,551.45 C375.55,551.03 376.93,549.72 378.06,548.89 C379.19,548.07 380.57,547.06 381.82,546.49 C383.08,545.91 384.33,545.61 385.59,545.43 C386.84,545.26 388.1,545.26 389.35,545.43 C390.6,545.61 391.86,545.98 393.11,546.49 C394.37,546.99 395.75,547.61 396.88,548.44 C398,549.27 398.88,550.32 399.89,551.45 C400.89,552.58 401.89,554.09 402.9,555.21 C403.9,556.34 404.9,557.22 405.91,558.23 C406.91,559.23 407.91,560.28 408.92,561.24 C409.92,562.19 410.8,563.19 411.93,563.94 C413.06,564.7 414.44,565.27 415.69,565.75 C416.94,566.23 418.07,566.6 419.45,566.8 C420.83,567.01 422.46,567.06 423.97,566.95 C425.47,566.85 426.98,566.53 428.48,566.2 C429.99,565.88 431.74,565.58 433,565 C434.25,564.42 435.13,563.62 436.01,562.74 C436.89,561.86 437.6,560.98 438.27,559.73 C438.93,558.48 439.22,557.1 440.01,555.21 C440.8,553.33 442.02,550.45 443.02,548.44 C444.02,546.44 445.03,544.68 446.03,543.17 C447.03,541.67 448.04,540.29 449.04,539.41 C450.04,538.53 451.05,538.08 452.05,537.91 C453.05,537.73 453.93,537.73 455.06,538.36 C456.19,538.98 457.57,540.11 458.82,541.67 C460.08,543.22 461.33,545.68 462.59,547.69 C463.84,549.7 465.1,551.95 466.35,553.71 C467.6,555.47 468.73,556.85 470.11,558.23 C471.49,559.6 473.12,561.03 474.63,561.99 C476.13,562.94 477.76,563.57 479.14,563.94 C480.52,564.32 481.65,564.45 482.91,564.25 C484.16,564.04 485.41,563.49 486.67,562.74 C487.92,561.99 489.18,560.68 490.43,559.73 C491.69,558.78 493.07,557.57 494.19,557.02 C495.32,556.47 496.08,556.34 497.2,556.42 C498.33,556.49 499.59,557.05 500.97,557.47 C502.35,557.9 503.85,558.55 505.48,558.98 C507.11,559.4 508.7,559.78 510.75,560.03 C512.8,560.28 515.97,560.16 517.76,560.48 C519.56,560.81 520.27,561.41 521.53,561.99 C522.78,562.56 524.03,563.37 525.29,563.94 C526.54,564.52 527.8,565.15 529.05,565.45 C530.31,565.75 531.56,565.9 532.81,565.75 C534.07,565.6 535.32,565.05 536.58,564.55 C537.83,564.04 539.09,563.34 540.34,562.74 C541.59,562.14 542.85,561.44 544.1,560.93 C545.36,560.43 546.61,559.88 547.87,559.73 C549.12,559.58 550.37,559.73 551.63,560.03 C552.88,560.33 554.14,561.03 555.39,561.54 C556.64,562.04 557.9,562.72 559.15,563.04 C560.41,563.37 561.66,563.59 562.92,563.49 C564.17,563.39 565.42,562.94 566.68,562.44 C567.93,561.94 569.19,561.01 570.44,560.48 C571.7,559.96 572.95,559.53 574.2,559.28 C575.46,559.03 576.71,558.85 577.97,558.98 C579.22,559.1 580.48,559.45 581.73,560.03 C582.98,560.61 584.24,561.61 585.49,562.44 C586.75,563.27 587.71,564.45 589.26,565 C590.8,565.55 593.22,565.25 594.76,565.75 C596.31,566.25 597.27,567.38 598.53,568.01 C599.78,568.64 601.03,569.14 602.29,569.51 C603.54,569.89 604.8,570.19 606.05,570.27 C607.31,570.34 608.56,570.17 609.81,569.97 C611.07,569.76 612.32,569.39 613.58,569.06 C614.83,568.74 616.09,568.43 617.34,568.01 C618.59,567.58 619.85,567.01 621.1,566.5 C622.36,566 623.61,565.42 624.87,565 C626.12,564.57 627.25,564.2 628.63,563.94 C630.01,563.69 631.64,563.57 633.14,563.49 C634.65,563.42 636.15,563.49 637.66,563.49 C639.16,563.49 640.67,563.49 642.17,563.49 C643.68,563.49 645.18,563.49 646.69,563.49 C648.19,563.49 649.7,563.49 651.2,563.49 C652.71,563.49 654.21,563.49 655.72,563.49 C657.23,563.49 658.73,563.42 660.24,563.49 C661.74,563.57 663.2,563.77 664.75,563.94 C666.31,564.12 668.76,564.45 669.57,564.55" fill="none" stroke="#ff0000" stroke-width="0.85" stroke-linejoin="round"/>
<line x1="375" y1="526.3" x2="669.6" y2="537.5" stroke="#0000ff" stroke-width="0.75" stroke-dasharray="2 1.3"/>
<line x1="375" y1="553.4" x2="669.6" y2="567.3" stroke="#ff0000" stroke-width="0.75" stroke-dasharray="2 1.3"/>
</g>
<path d="M683.7,492.8 L360.6,492.8 L360.6,581.6 L683.7,581.6" fill="none" stroke="#8a8a8a" stroke-width="1"/>
<line x1="683.7" y1="492.3" x2="683.7" y2="582.1" stroke="#8a8a8a" stroke-width="1"/>
<line x1="397.2" y1="581.6" x2="397.2" y2="583.2" stroke="#555" stroke-width="0.8"/>
<text x="397.2" y="588.9" font-size="6.2" text-anchor="middle" fill="#222">1</text>
<line x1="442.53" y1="581.6" x2="442.53" y2="583.2" stroke="#555" stroke-width="0.8"/>
<text x="442.53" y="588.9" font-size="6.2" text-anchor="middle" fill="#222">2</text>
<line x1="487.86" y1="581.6" x2="487.86" y2="583.2" stroke="#555" stroke-width="0.8"/>
<text x="487.86" y="588.9" font-size="6.2" text-anchor="middle" fill="#222">3</text>
<line x1="533.19" y1="581.6" x2="533.19" y2="583.2" stroke="#555" stroke-width="0.8"/>
<text x="533.19" y="588.9" font-size="6.2" text-anchor="middle" fill="#222">4</text>
<line x1="578.52" y1="581.6" x2="578.52" y2="583.2" stroke="#555" stroke-width="0.8"/>
<text x="578.52" y="588.9" font-size="6.2" text-anchor="middle" fill="#222">5</text>
<line x1="623.85" y1="581.6" x2="623.85" y2="583.2" stroke="#555" stroke-width="0.8"/>
<text x="623.85" y="588.9" font-size="6.2" text-anchor="middle" fill="#222">6</text>
<line x1="669.18" y1="581.6" x2="669.18" y2="583.2" stroke="#555" stroke-width="0.8"/>
<text x="669.18" y="588.9" font-size="6.2" text-anchor="middle" fill="#222">7</text>
<line x1="359" y1="569.9" x2="360.6" y2="569.9" stroke="#555" stroke-width="0.8"/>
<text x="357.6" y="572.57" font-size="6.2" text-anchor="end" fill="#222">2.0</text>
<line x1="359" y1="556.38" x2="360.6" y2="556.38" stroke="#555" stroke-width="0.8"/>
<text x="357.6" y="559.05" font-size="6.2" text-anchor="end" fill="#222">2.5</text>
<line x1="359" y1="542.86" x2="360.6" y2="542.86" stroke="#555" stroke-width="0.8"/>
<text x="357.6" y="545.53" font-size="6.2" text-anchor="end" fill="#222">3.0</text>
<line x1="359" y1="529.34" x2="360.6" y2="529.34" stroke="#555" stroke-width="0.8"/>
<text x="357.6" y="532.01" font-size="6.2" text-anchor="end" fill="#222">3.5</text>
<line x1="359" y1="515.82" x2="360.6" y2="515.82" stroke="#555" stroke-width="0.8"/>
<text x="357.6" y="518.49" font-size="6.2" text-anchor="end" fill="#222">4.0</text>
<line x1="359" y1="502.3" x2="360.6" y2="502.3" stroke="#555" stroke-width="0.8"/>
<text x="357.6" y="504.97" font-size="6.2" text-anchor="end" fill="#222">4.5</text>
<rect x="585.8" y="494.8" width="95.6" height="20.3" rx="1.5" fill="#fff" stroke="#d9d9d9" stroke-width="0.8"/>
<line x1="588.1" y1="499.7" x2="602.5" y2="499.7" stroke="#5555ff" stroke-width="1.3"/>
<line x1="588.1" y1="509" x2="602.5" y2="509" stroke="#ff6666" stroke-width="1.3"/>
<text x="607.9" y="502.26" font-size="7.1" text-anchor="start" fill="#111">Epileptic Regions</text>
<text x="607.9" y="511.56" font-size="7.1" text-anchor="start" fill="#111">Non-Epileptic Regions</text>
<text x="522.2" y="489.6" font-size="7.05" text-anchor="middle" fill="#222">THETA band</text>
<text x="361.3" y="491.3" font-size="5.6" text-anchor="start" fill="#222">1e−21</text>
<text x="522" y="596" font-size="5.8" text-anchor="middle" fill="#222">Time (minutes)</text>
</svg>
</body></html>
